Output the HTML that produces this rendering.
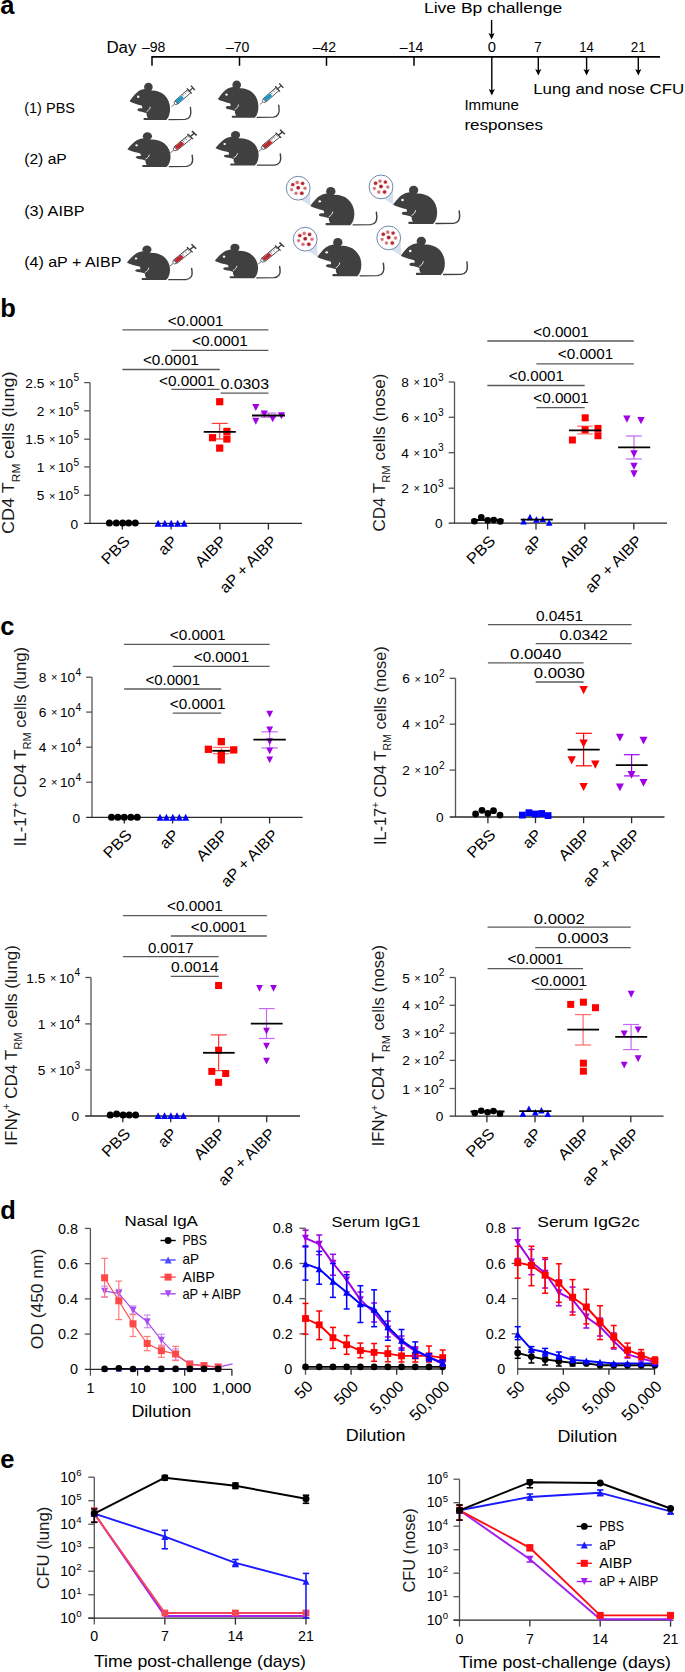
<!DOCTYPE html>
<html><head><meta charset="utf-8"><title>Figure</title>
<style>
html,body{margin:0;padding:0;background:#fff;width:685px;height:1672px;overflow:hidden}
svg{display:block}
text{font-family:"Liberation Sans", sans-serif}
</style></head>
<body>
<svg width="685" height="1672" viewBox="0 0 685 1672" font-family='"Liberation Sans", sans-serif'>
<rect width="685" height="1672" fill="#fff"/>
<defs><g id="mouse"><path d="M0 0 C1.5 -2 4.5 -6.5 8 -9.2 C9.8 -10.6 12 -11.6 14.6 -12 L22.3 -10.6 C26.5 -10.8 31.5 -9.2 34.8 -6.2 C38.6 -2.6 40.5 2.5 40.5 7.5 C40.5 12 39.6 16 36.8 18.9 L14.8 18.9 C13.5 18.9 13.5 16.8 14.8 16.8 L18.3 16.8 C17.3 15.5 16.7 13.6 17.1 12.2 C15 11.1 12.6 10.6 10.6 10.3 C8.7 10.1 7.3 9.3 8 8.1 C8.8 7.1 10.6 7 12.6 7.3 C12.7 6.3 12.6 5.4 12.3 4.7 C10.5 4.1 7 3.3 4.3 2.2 C2.5 1.5 0.8 0.9 0 0 Z" fill="#404040"/><circle cx="18.8" cy="-14.0" r="4.3" fill="#404040"/><circle cx="8.6" cy="-4.3" r="1.2" fill="#fff"/><path d="M20.6 5.6 C20.4 7.8 19 9.6 16.9 10.6" fill="none" stroke="#fff" stroke-width="0.85"/><path d="M39.4 18.5 L55.5 18.3 C60 18 61.6 14 61.2 10.2 L60.8 6.2" fill="none" stroke="#404040" stroke-width="1.35" stroke-linecap="round"/></g><g id="syrB"><line x1="0" y1="0" x2="4.6" y2="0" stroke="#555" stroke-width="0.75"/><path d="M4.4 -1.3 L6.6 -1.9 L6.6 1.9 L4.4 1.3 Z" fill="#fff" stroke="#3a3a3a" stroke-width="0.7"/><rect x="6.6" y="-2.2" width="17.2" height="4.4" fill="#fff" stroke="#3a3a3a" stroke-width="0.8"/><rect x="7.0" y="-1.8" width="8.0" height="3.6" fill="#1d97c6"/><line x1="16.2" y1="-2.2" x2="16.2" y2="0.6" stroke="#444" stroke-width="0.55"/><line x1="17.8" y1="-2.2" x2="17.8" y2="-0.6" stroke="#444" stroke-width="0.55"/><line x1="19.4" y1="-2.2" x2="19.4" y2="0.6" stroke="#444" stroke-width="0.55"/><line x1="21.0" y1="-2.2" x2="21.0" y2="-0.6" stroke="#444" stroke-width="0.55"/><line x1="22.6" y1="-2.2" x2="22.6" y2="0.6" stroke="#444" stroke-width="0.55"/><line x1="23.8" y1="-3.6" x2="23.8" y2="3.6" stroke="#3a3a3a" stroke-width="1.1"/><line x1="23.8" y1="0" x2="28.6" y2="0" stroke="#3a3a3a" stroke-width="1.2"/><line x1="28.6" y1="-3.0" x2="28.6" y2="3.0" stroke="#3a3a3a" stroke-width="1.4"/></g><g id="syrR"><line x1="0" y1="0" x2="4.6" y2="0" stroke="#555" stroke-width="0.75"/><path d="M4.4 -1.3 L6.6 -1.9 L6.6 1.9 L4.4 1.3 Z" fill="#fff" stroke="#3a3a3a" stroke-width="0.7"/><rect x="6.6" y="-2.2" width="17.2" height="4.4" fill="#fff" stroke="#3a3a3a" stroke-width="0.8"/><rect x="7.0" y="-1.8" width="8.0" height="3.6" fill="#c1272d"/><line x1="16.2" y1="-2.2" x2="16.2" y2="0.6" stroke="#444" stroke-width="0.55"/><line x1="17.8" y1="-2.2" x2="17.8" y2="-0.6" stroke="#444" stroke-width="0.55"/><line x1="19.4" y1="-2.2" x2="19.4" y2="0.6" stroke="#444" stroke-width="0.55"/><line x1="21.0" y1="-2.2" x2="21.0" y2="-0.6" stroke="#444" stroke-width="0.55"/><line x1="22.6" y1="-2.2" x2="22.6" y2="0.6" stroke="#444" stroke-width="0.55"/><line x1="23.8" y1="-3.6" x2="23.8" y2="3.6" stroke="#3a3a3a" stroke-width="1.1"/><line x1="23.8" y1="0" x2="28.6" y2="0" stroke="#3a3a3a" stroke-width="1.2"/><line x1="28.6" y1="-3.0" x2="28.6" y2="3.0" stroke="#3a3a3a" stroke-width="1.4"/></g><g id="bubble"><path d="M2.6 11.6 L12.4 17.8 L11.7 2.2 Z" fill="#d6e0ee"/><circle cx="0" cy="0" r="11.9" fill="#fff" stroke="#55739a" stroke-width="0.85"/><circle cx="-5.4" cy="-3.6" r="2.3" fill="#f3d3d4"/><circle cx="-5.4" cy="-3.6" r="1.7" fill="#b8282e"/><circle cx="-1.0" cy="-5.8" r="2.2" fill="#f3d3d4"/><circle cx="-1.0" cy="-5.8" r="1.6" fill="#d46e72"/><circle cx="4.4" cy="-4.8" r="2.3" fill="#f3d3d4"/><circle cx="4.4" cy="-4.8" r="1.7" fill="#b8282e"/><circle cx="-6.6" cy="1.5" r="2.0" fill="#f3d3d4"/><circle cx="-6.6" cy="1.5" r="1.4" fill="#d46e72"/><circle cx="0.0" cy="-0.4" r="2.4" fill="#f3d3d4"/><circle cx="0.0" cy="-0.4" r="1.8" fill="#a92026"/><circle cx="6.8" cy="0.0" r="2.1" fill="#f3d3d4"/><circle cx="6.8" cy="0.0" r="1.5" fill="#d46e72"/><circle cx="-2.2" cy="5.1" r="2.1" fill="#f3d3d4"/><circle cx="-2.2" cy="5.1" r="1.5" fill="#d46e72"/><circle cx="3.6" cy="5.1" r="2.4" fill="#f3d3d4"/><circle cx="3.6" cy="5.1" r="1.8" fill="#b8282e"/></g></defs>
<text x="0.30" y="14.00" font-size="25.5" font-weight="bold" fill="#000">a</text>
<line x1="151.30" y1="56.90" x2="660.00" y2="56.90" stroke="#000" stroke-width="1.6" />
<line x1="152.00" y1="56.90" x2="152.00" y2="65.80" stroke="#000" stroke-width="1.5" />
<line x1="239.50" y1="56.90" x2="239.50" y2="65.80" stroke="#000" stroke-width="1.5" />
<line x1="326.50" y1="56.90" x2="326.50" y2="65.80" stroke="#000" stroke-width="1.5" />
<line x1="414.00" y1="56.90" x2="414.00" y2="65.80" stroke="#000" stroke-width="1.5" />
<line x1="491.80" y1="56.90" x2="491.80" y2="91.60" stroke="#000" stroke-width="1.4" />
<path d="M488.70 89.00L491.80 90.60L494.90 89.00L491.80 95.60Z" fill="#000"/>
<line x1="538.30" y1="56.90" x2="538.30" y2="71.50" stroke="#000" stroke-width="1.4" />
<path d="M535.20 68.90L538.30 70.50L541.40 68.90L538.30 75.50Z" fill="#000"/>
<line x1="586.60" y1="56.90" x2="586.60" y2="71.50" stroke="#000" stroke-width="1.4" />
<path d="M583.50 68.90L586.60 70.50L589.70 68.90L586.60 75.50Z" fill="#000"/>
<line x1="638.30" y1="56.90" x2="638.30" y2="71.50" stroke="#000" stroke-width="1.4" />
<path d="M635.20 68.90L638.30 70.50L641.40 68.90L638.30 75.50Z" fill="#000"/>
<line x1="491.60" y1="19.90" x2="491.60" y2="35.50" stroke="#000" stroke-width="1.4" />
<path d="M488.50 32.90L491.60 34.50L494.70 32.90L491.60 39.50Z" fill="#000"/>
<text x="106.40" y="52.80" font-size="15.8" textLength="30.00" lengthAdjust="spacingAndGlyphs">Day</text>
<text x="153.70" y="51.90" font-size="13.8" text-anchor="middle" textLength="23.50" lengthAdjust="spacingAndGlyphs">–98</text>
<text x="237.70" y="51.90" font-size="13.8" text-anchor="middle" textLength="23.50" lengthAdjust="spacingAndGlyphs">–70</text>
<text x="324.40" y="51.90" font-size="13.8" text-anchor="middle" textLength="23.50" lengthAdjust="spacingAndGlyphs">–42</text>
<text x="411.60" y="51.90" font-size="13.8" text-anchor="middle" textLength="23.50" lengthAdjust="spacingAndGlyphs">–14</text>
<text x="491.80" y="51.90" font-size="13.8" text-anchor="middle" textLength="8.20" lengthAdjust="spacingAndGlyphs">0</text>
<text x="537.90" y="51.90" font-size="13.8" text-anchor="middle" textLength="7.50" lengthAdjust="spacingAndGlyphs">7</text>
<text x="586.60" y="51.90" font-size="13.8" text-anchor="middle" textLength="14.50" lengthAdjust="spacingAndGlyphs">14</text>
<text x="638.30" y="51.90" font-size="13.8" text-anchor="middle" textLength="15.00" lengthAdjust="spacingAndGlyphs">21</text>
<text x="423.90" y="12.80" font-size="15.2" textLength="138.30" lengthAdjust="spacingAndGlyphs">Live Bp challenge</text>
<text x="533.20" y="93.60" font-size="15.2" textLength="151.00" lengthAdjust="spacingAndGlyphs">Lung and nose CFU</text>
<text x="464.40" y="110.40" font-size="15.2" textLength="54.50" lengthAdjust="spacingAndGlyphs">Immune</text>
<text x="464.40" y="129.50" font-size="15.2" textLength="78.60" lengthAdjust="spacingAndGlyphs">responses</text>
<text x="24.20" y="112.50" font-size="15.2" textLength="50.80" lengthAdjust="spacingAndGlyphs">(1) PBS</text>
<text x="24.20" y="164.20" font-size="15.2" textLength="42.60" lengthAdjust="spacingAndGlyphs">(2) aP</text>
<text x="24.20" y="216.40" font-size="15.2" textLength="60.40" lengthAdjust="spacingAndGlyphs">(3) AIBP</text>
<text x="24.20" y="267.20" font-size="15.2" textLength="97.20" lengthAdjust="spacingAndGlyphs">(4) aP + AIBP</text>
<g transform="translate(129.60,101.10) scale(1.0,1.0)"><use href="#mouse"/><use href="#syrB" transform="translate(41.9,5.7) rotate(-41.5) scale(1.0)"/></g>
<g transform="translate(217.90,98.90) scale(1.0,1.0)"><use href="#mouse"/><use href="#syrB" transform="translate(41.9,5.7) rotate(-41.5) scale(1.0)"/></g>
<g transform="translate(127.40,149.30) scale(1.065,0.93)"><use href="#mouse"/><use href="#syrR" transform="translate(40.3,3.9) rotate(-43.2) scale(1.08)"/></g>
<g transform="translate(215.50,148.00) scale(1.065,0.93)"><use href="#mouse"/><use href="#syrR" transform="translate(40.3,3.9) rotate(-43.2) scale(1.08)"/></g>
<g transform="translate(126.90,262.50) scale(1.065,0.93)"><use href="#mouse"/><use href="#syrR" transform="translate(40.3,3.9) rotate(-43.2) scale(1.08)"/></g>
<g transform="translate(214.90,260.70) scale(1.065,0.93)"><use href="#mouse"/><use href="#syrR" transform="translate(40.3,3.9) rotate(-43.2) scale(1.08)"/></g>
<use href="#bubble" transform="translate(298.20,188.20)"/>
<use href="#mouse" transform="translate(310.40,205.80) scale(1.085,1.03)"/>
<use href="#bubble" transform="translate(381.00,186.90)"/>
<use href="#mouse" transform="translate(393.20,204.50) scale(1.085,1.03)"/>
<use href="#bubble" transform="translate(305.20,239.20)"/>
<use href="#mouse" transform="translate(317.40,256.80) scale(1.085,1.03)"/>
<use href="#bubble" transform="translate(388.70,237.90)"/>
<use href="#mouse" transform="translate(400.90,255.50) scale(1.085,1.03)"/>
<text x="0.30" y="317.00" font-size="25.5" font-weight="bold" fill="#000">b</text>
<text x="0.30" y="634.60" font-size="25.5" font-weight="bold" fill="#000">c</text>
<line x1="90.00" y1="382.60" x2="90.00" y2="523.40" stroke="#555" stroke-width="1.3" />
<line x1="84.20" y1="382.60" x2="90.00" y2="382.60" stroke="#555" stroke-width="1.3" />
<text x="73.20" y="387.60" font-size="13.7" text-anchor="end">10</text>
<text x="52.10" y="386.80" font-size="11.0" text-anchor="middle">×</text>
<text x="44.40" y="387.60" font-size="13.7" text-anchor="end">2.5</text>
<text x="73.40" y="381.30" font-size="10.2">5</text>
<line x1="84.20" y1="410.80" x2="90.00" y2="410.80" stroke="#555" stroke-width="1.3" />
<text x="73.20" y="415.80" font-size="13.7" text-anchor="end">10</text>
<text x="52.10" y="415.00" font-size="11.0" text-anchor="middle">×</text>
<text x="44.40" y="415.80" font-size="13.7" text-anchor="end">2</text>
<text x="73.40" y="409.50" font-size="10.2">5</text>
<line x1="84.20" y1="439.20" x2="90.00" y2="439.20" stroke="#555" stroke-width="1.3" />
<text x="73.20" y="444.20" font-size="13.7" text-anchor="end">10</text>
<text x="52.10" y="443.40" font-size="11.0" text-anchor="middle">×</text>
<text x="44.40" y="444.20" font-size="13.7" text-anchor="end">1.5</text>
<text x="73.40" y="437.90" font-size="10.2">5</text>
<line x1="84.20" y1="466.90" x2="90.00" y2="466.90" stroke="#555" stroke-width="1.3" />
<text x="73.20" y="471.90" font-size="13.7" text-anchor="end">10</text>
<text x="52.10" y="471.10" font-size="11.0" text-anchor="middle">×</text>
<text x="44.40" y="471.90" font-size="13.7" text-anchor="end">1</text>
<text x="73.40" y="465.60" font-size="10.2">5</text>
<line x1="84.20" y1="495.30" x2="90.00" y2="495.30" stroke="#555" stroke-width="1.3" />
<text x="73.20" y="500.30" font-size="13.7" text-anchor="end">10</text>
<text x="52.10" y="499.50" font-size="11.0" text-anchor="middle">×</text>
<text x="44.40" y="500.30" font-size="13.7" text-anchor="end">5</text>
<text x="73.40" y="494.00" font-size="10.2">5</text>
<text x="78.00" y="528.60" font-size="13.7" text-anchor="end">0</text>
<line x1="84.20" y1="523.40" x2="302.00" y2="523.40" stroke="#2a2a2a" stroke-width="1.3" />
<line x1="122.30" y1="523.40" x2="122.30" y2="529.60" stroke="#2a2a2a" stroke-width="1.3" />
<line x1="171.10" y1="523.40" x2="171.10" y2="529.60" stroke="#2a2a2a" stroke-width="1.3" />
<line x1="219.90" y1="523.40" x2="219.90" y2="529.60" stroke="#2a2a2a" stroke-width="1.3" />
<line x1="268.40" y1="523.40" x2="268.40" y2="529.60" stroke="#2a2a2a" stroke-width="1.3" />
<text transform="translate(130.90,542.10) rotate(-45)" x="0.00" y="0.00" font-size="15.4" text-anchor="end" textLength="33.00" lengthAdjust="spacingAndGlyphs">PBS</text>
<text transform="translate(178.20,542.10) rotate(-45)" x="0.00" y="0.00" font-size="15.4" text-anchor="end" textLength="19.60" lengthAdjust="spacingAndGlyphs">aP</text>
<text transform="translate(227.30,542.10) rotate(-45)" x="0.00" y="0.00" font-size="15.4" text-anchor="end" textLength="37.00" lengthAdjust="spacingAndGlyphs">AIBP</text>
<text transform="translate(277.80,542.10) rotate(-45)" x="0.00" y="0.00" font-size="15.4" text-anchor="end" textLength="73.50" lengthAdjust="spacingAndGlyphs">aP + AIBP</text>
<line x1="122.40" y1="329.80" x2="268.40" y2="329.80" stroke="#5a5a5a" stroke-width="1.3" />
<line x1="171.30" y1="350.40" x2="268.40" y2="350.40" stroke="#5a5a5a" stroke-width="1.3" />
<line x1="122.40" y1="369.50" x2="219.70" y2="369.50" stroke="#5a5a5a" stroke-width="1.3" />
<line x1="171.30" y1="389.40" x2="219.70" y2="389.40" stroke="#5a5a5a" stroke-width="1.3" />
<line x1="220.60" y1="393.10" x2="268.40" y2="393.10" stroke="#5a5a5a" stroke-width="1.3" />
<text x="195.60" y="325.60" font-size="13.9" text-anchor="middle" textLength="55.80" lengthAdjust="spacingAndGlyphs">&lt;0.0001</text>
<text x="219.95" y="346.00" font-size="13.9" text-anchor="middle" textLength="55.90" lengthAdjust="spacingAndGlyphs">&lt;0.0001</text>
<text x="170.80" y="365.30" font-size="13.9" text-anchor="middle" textLength="55.80" lengthAdjust="spacingAndGlyphs">&lt;0.0001</text>
<text x="186.90" y="385.70" font-size="13.9" text-anchor="middle" textLength="55.80" lengthAdjust="spacingAndGlyphs">&lt;0.0001</text>
<text x="244.70" y="389.40" font-size="13.9" text-anchor="middle" textLength="48.60" lengthAdjust="spacingAndGlyphs">0.0303</text>
<circle cx="109.40" cy="523.10" r="3.50" fill="#000"/>
<circle cx="116.30" cy="523.10" r="3.50" fill="#000"/>
<circle cx="122.70" cy="523.10" r="3.50" fill="#000"/>
<circle cx="128.70" cy="523.10" r="3.50" fill="#000"/>
<circle cx="135.30" cy="523.10" r="3.50" fill="#000"/>
<path d="M154.60 526.73L161.60 526.73L158.10 519.87Z" fill="#0000ff"/>
<path d="M161.30 526.73L168.30 526.73L164.80 519.87Z" fill="#0000ff"/>
<path d="M167.70 526.73L174.70 526.73L171.20 519.87Z" fill="#0000ff"/>
<path d="M174.20 526.73L181.20 526.73L177.70 519.87Z" fill="#0000ff"/>
<path d="M180.60 526.73L187.60 526.73L184.10 519.87Z" fill="#0000ff"/>
<line x1="219.70" y1="423.40" x2="219.70" y2="439.00" stroke="#ff3b3b" stroke-width="1.2" />
<line x1="211.70" y1="423.40" x2="227.70" y2="423.40" stroke="#ff3b3b" stroke-width="1.2" />
<line x1="211.70" y1="439.00" x2="227.70" y2="439.00" stroke="#ff3b3b" stroke-width="1.2" />
<rect x="216.10" y="398.10" width="7.20" height="7.20" fill="#ff0000"/>
<rect x="208.90" y="434.10" width="7.20" height="7.20" fill="#ff0000"/>
<rect x="223.30" y="427.80" width="7.20" height="7.20" fill="#ff0000"/>
<rect x="223.30" y="435.40" width="7.20" height="7.20" fill="#ff0000"/>
<rect x="216.10" y="444.50" width="7.20" height="7.20" fill="#ff0000"/>
<line x1="203.70" y1="431.80" x2="235.80" y2="431.80" stroke="#000" stroke-width="1.8" />
<line x1="268.40" y1="413.10" x2="268.40" y2="417.20" stroke="#c36af0" stroke-width="1.2" />
<line x1="260.50" y1="413.10" x2="276.30" y2="413.10" stroke="#c36af0" stroke-width="1.2" />
<line x1="260.50" y1="417.20" x2="276.30" y2="417.20" stroke="#c36af0" stroke-width="1.2" />
<path d="M252.20 403.97L259.40 403.97L255.80 411.03Z" fill="#a000e6"/>
<path d="M260.70 410.47L267.90 410.47L264.30 417.53Z" fill="#a000e6"/>
<path d="M269.10 415.17L276.30 415.17L272.70 422.23Z" fill="#a000e6"/>
<path d="M277.80 412.27L285.00 412.27L281.40 419.33Z" fill="#a000e6"/>
<path d="M252.20 417.77L259.40 417.77L255.80 424.83Z" fill="#a000e6"/>
<line x1="252.00" y1="415.50" x2="285.00" y2="415.50" stroke="#000" stroke-width="1.8" />
<text transform="translate(14.40,533.90) rotate(-90)" x="0" y="0" font-size="16.4" fill="#1a1a1a" textLength="162.40" lengthAdjust="spacingAndGlyphs"><tspan>CD4 T</tspan><tspan font-size="10.8" dy="5.2">RM</tspan><tspan dy="-5.2"> cells (lung)</tspan></text>
<line x1="454.50" y1="382.00" x2="454.50" y2="523.20" stroke="#555" stroke-width="1.3" />
<line x1="448.70" y1="382.00" x2="454.50" y2="382.00" stroke="#555" stroke-width="1.3" />
<text x="437.70" y="387.00" font-size="13.7" text-anchor="end">10</text>
<text x="416.60" y="386.20" font-size="11.0" text-anchor="middle">×</text>
<text x="408.90" y="387.00" font-size="13.7" text-anchor="end">8</text>
<text x="437.90" y="380.70" font-size="10.2">3</text>
<line x1="448.70" y1="417.30" x2="454.50" y2="417.30" stroke="#555" stroke-width="1.3" />
<text x="437.70" y="422.30" font-size="13.7" text-anchor="end">10</text>
<text x="416.60" y="421.50" font-size="11.0" text-anchor="middle">×</text>
<text x="408.90" y="422.30" font-size="13.7" text-anchor="end">6</text>
<text x="437.90" y="416.00" font-size="10.2">3</text>
<line x1="448.70" y1="452.70" x2="454.50" y2="452.70" stroke="#555" stroke-width="1.3" />
<text x="437.70" y="457.70" font-size="13.7" text-anchor="end">10</text>
<text x="416.60" y="456.90" font-size="11.0" text-anchor="middle">×</text>
<text x="408.90" y="457.70" font-size="13.7" text-anchor="end">4</text>
<text x="437.90" y="451.40" font-size="10.2">3</text>
<line x1="448.70" y1="488.20" x2="454.50" y2="488.20" stroke="#555" stroke-width="1.3" />
<text x="437.70" y="493.20" font-size="13.7" text-anchor="end">10</text>
<text x="416.60" y="492.40" font-size="11.0" text-anchor="middle">×</text>
<text x="408.90" y="493.20" font-size="13.7" text-anchor="end">2</text>
<text x="437.90" y="486.90" font-size="10.2">3</text>
<text x="442.50" y="528.40" font-size="13.7" text-anchor="end">0</text>
<line x1="448.70" y1="523.20" x2="667.00" y2="523.20" stroke="#2a2a2a" stroke-width="1.3" />
<line x1="487.60" y1="523.20" x2="487.60" y2="529.40" stroke="#2a2a2a" stroke-width="1.3" />
<line x1="536.00" y1="523.20" x2="536.00" y2="529.40" stroke="#2a2a2a" stroke-width="1.3" />
<line x1="584.80" y1="523.20" x2="584.80" y2="529.40" stroke="#2a2a2a" stroke-width="1.3" />
<line x1="633.80" y1="523.20" x2="633.80" y2="529.40" stroke="#2a2a2a" stroke-width="1.3" />
<text transform="translate(496.20,541.90) rotate(-45)" x="0.00" y="0.00" font-size="15.4" text-anchor="end" textLength="33.00" lengthAdjust="spacingAndGlyphs">PBS</text>
<text transform="translate(543.10,541.90) rotate(-45)" x="0.00" y="0.00" font-size="15.4" text-anchor="end" textLength="19.60" lengthAdjust="spacingAndGlyphs">aP</text>
<text transform="translate(592.20,541.90) rotate(-45)" x="0.00" y="0.00" font-size="15.4" text-anchor="end" textLength="37.00" lengthAdjust="spacingAndGlyphs">AIBP</text>
<text transform="translate(643.20,541.90) rotate(-45)" x="0.00" y="0.00" font-size="15.4" text-anchor="end" textLength="73.50" lengthAdjust="spacingAndGlyphs">aP + AIBP</text>
<line x1="487.30" y1="341.00" x2="633.80" y2="341.00" stroke="#5a5a5a" stroke-width="1.3" />
<line x1="536.40" y1="363.80" x2="633.80" y2="363.80" stroke="#5a5a5a" stroke-width="1.3" />
<line x1="487.30" y1="385.50" x2="584.70" y2="385.50" stroke="#5a5a5a" stroke-width="1.3" />
<line x1="536.40" y1="407.60" x2="584.70" y2="407.60" stroke="#5a5a5a" stroke-width="1.3" />
<text x="561.05" y="336.80" font-size="13.9" text-anchor="middle" textLength="55.50" lengthAdjust="spacingAndGlyphs">&lt;0.0001</text>
<text x="585.55" y="359.20" font-size="13.9" text-anchor="middle" textLength="55.50" lengthAdjust="spacingAndGlyphs">&lt;0.0001</text>
<text x="536.35" y="381.30" font-size="13.9" text-anchor="middle" textLength="55.10" lengthAdjust="spacingAndGlyphs">&lt;0.0001</text>
<text x="561.05" y="403.00" font-size="13.9" text-anchor="middle" textLength="55.50" lengthAdjust="spacingAndGlyphs">&lt;0.0001</text>
<circle cx="474.40" cy="521.20" r="3.30" fill="#000"/>
<circle cx="481.30" cy="517.20" r="3.30" fill="#000"/>
<circle cx="487.70" cy="520.40" r="3.30" fill="#000"/>
<circle cx="493.80" cy="520.10" r="3.30" fill="#000"/>
<circle cx="500.30" cy="521.40" r="3.30" fill="#000"/>
<line x1="471.50" y1="520.00" x2="503.50" y2="520.00" stroke="#000" stroke-width="1.8" />
<path d="M520.30 524.43L526.90 524.43L523.60 517.97Z" fill="#0000ff"/>
<path d="M526.70 520.13L533.30 520.13L530.00 513.67Z" fill="#0000ff"/>
<path d="M533.10 522.83L539.70 522.83L536.40 516.37Z" fill="#0000ff"/>
<path d="M539.50 522.23L546.10 522.23L542.80 515.77Z" fill="#0000ff"/>
<path d="M545.90 525.73L552.50 525.73L549.20 519.27Z" fill="#0000ff"/>
<line x1="520.70" y1="519.60" x2="552.80" y2="519.60" stroke="#000" stroke-width="1.8" />
<line x1="585.20" y1="426.20" x2="585.20" y2="433.90" stroke="#ff6a6a" stroke-width="1.2" />
<line x1="577.20" y1="426.20" x2="592.80" y2="426.20" stroke="#ff6a6a" stroke-width="1.2" />
<line x1="577.20" y1="433.90" x2="592.80" y2="433.90" stroke="#ff6a6a" stroke-width="1.2" />
<rect x="581.70" y="414.30" width="7.00" height="7.00" fill="#ff0000"/>
<rect x="581.60" y="426.30" width="7.00" height="7.00" fill="#ff0000"/>
<rect x="568.90" y="436.50" width="7.00" height="7.00" fill="#ff0000"/>
<rect x="594.50" y="424.90" width="7.00" height="7.00" fill="#ff0000"/>
<rect x="594.50" y="432.20" width="7.00" height="7.00" fill="#ff0000"/>
<line x1="569.00" y1="430.30" x2="601.20" y2="430.30" stroke="#000" stroke-width="1.8" />
<line x1="634.00" y1="436.00" x2="634.00" y2="459.00" stroke="#c36af0" stroke-width="1.2" />
<line x1="626.00" y1="436.00" x2="641.80" y2="436.00" stroke="#c36af0" stroke-width="1.2" />
<line x1="626.00" y1="459.00" x2="641.80" y2="459.00" stroke="#c36af0" stroke-width="1.2" />
<path d="M623.20 415.57L630.60 415.57L626.90 422.83Z" fill="#a000e6"/>
<path d="M637.30 416.97L644.70 416.97L641.00 424.23Z" fill="#a000e6"/>
<path d="M630.30 450.27L637.70 450.27L634.00 457.53Z" fill="#a000e6"/>
<path d="M630.30 462.67L637.70 462.67L634.00 469.93Z" fill="#a000e6"/>
<path d="M630.30 470.37L637.70 470.37L634.00 477.63Z" fill="#a000e6"/>
<line x1="618.10" y1="447.30" x2="650.20" y2="447.30" stroke="#000" stroke-width="1.8" />
<text transform="translate(385.20,531.60) rotate(-90)" x="0" y="0" font-size="16.4" fill="#1a1a1a" textLength="158.00" lengthAdjust="spacingAndGlyphs"><tspan>CD4 T</tspan><tspan font-size="10.8" dy="5.2">RM</tspan><tspan dy="-5.2"> cells (nose)</tspan></text>
<line x1="92.00" y1="677.20" x2="92.00" y2="817.30" stroke="#555" stroke-width="1.3" />
<line x1="86.20" y1="677.20" x2="92.00" y2="677.20" stroke="#555" stroke-width="1.3" />
<text x="75.20" y="682.20" font-size="13.7" text-anchor="end">10</text>
<text x="54.10" y="681.40" font-size="11.0" text-anchor="middle">×</text>
<text x="46.40" y="682.20" font-size="13.7" text-anchor="end">8</text>
<text x="75.40" y="675.90" font-size="10.2">4</text>
<line x1="86.20" y1="712.10" x2="92.00" y2="712.10" stroke="#555" stroke-width="1.3" />
<text x="75.20" y="717.10" font-size="13.7" text-anchor="end">10</text>
<text x="54.10" y="716.30" font-size="11.0" text-anchor="middle">×</text>
<text x="46.40" y="717.10" font-size="13.7" text-anchor="end">6</text>
<text x="75.40" y="710.80" font-size="10.2">4</text>
<line x1="86.20" y1="747.20" x2="92.00" y2="747.20" stroke="#555" stroke-width="1.3" />
<text x="75.20" y="752.20" font-size="13.7" text-anchor="end">10</text>
<text x="54.10" y="751.40" font-size="11.0" text-anchor="middle">×</text>
<text x="46.40" y="752.20" font-size="13.7" text-anchor="end">4</text>
<text x="75.40" y="745.90" font-size="10.2">4</text>
<line x1="86.20" y1="782.20" x2="92.00" y2="782.20" stroke="#555" stroke-width="1.3" />
<text x="75.20" y="787.20" font-size="13.7" text-anchor="end">10</text>
<text x="54.10" y="786.40" font-size="11.0" text-anchor="middle">×</text>
<text x="46.40" y="787.20" font-size="13.7" text-anchor="end">2</text>
<text x="75.40" y="780.90" font-size="10.2">4</text>
<text x="80.00" y="822.50" font-size="13.7" text-anchor="end">0</text>
<line x1="86.20" y1="817.30" x2="302.60" y2="817.30" stroke="#2a2a2a" stroke-width="1.3" />
<line x1="124.30" y1="817.30" x2="124.30" y2="823.50" stroke="#2a2a2a" stroke-width="1.3" />
<line x1="172.60" y1="817.30" x2="172.60" y2="823.50" stroke="#2a2a2a" stroke-width="1.3" />
<line x1="221.20" y1="817.30" x2="221.20" y2="823.50" stroke="#2a2a2a" stroke-width="1.3" />
<line x1="269.60" y1="817.30" x2="269.60" y2="823.50" stroke="#2a2a2a" stroke-width="1.3" />
<text transform="translate(132.90,836.00) rotate(-45)" x="0.00" y="0.00" font-size="15.4" text-anchor="end" textLength="33.00" lengthAdjust="spacingAndGlyphs">PBS</text>
<text transform="translate(179.70,836.00) rotate(-45)" x="0.00" y="0.00" font-size="15.4" text-anchor="end" textLength="19.60" lengthAdjust="spacingAndGlyphs">aP</text>
<text transform="translate(228.60,836.00) rotate(-45)" x="0.00" y="0.00" font-size="15.4" text-anchor="end" textLength="37.00" lengthAdjust="spacingAndGlyphs">AIBP</text>
<text transform="translate(279.00,836.00) rotate(-45)" x="0.00" y="0.00" font-size="15.4" text-anchor="end" textLength="73.50" lengthAdjust="spacingAndGlyphs">aP + AIBP</text>
<line x1="124.10" y1="644.30" x2="269.60" y2="644.30" stroke="#5a5a5a" stroke-width="1.3" />
<line x1="172.80" y1="666.40" x2="269.60" y2="666.40" stroke="#5a5a5a" stroke-width="1.3" />
<line x1="124.10" y1="689.00" x2="221.20" y2="689.00" stroke="#5a5a5a" stroke-width="1.3" />
<line x1="172.80" y1="713.10" x2="221.20" y2="713.10" stroke="#5a5a5a" stroke-width="1.3" />
<text x="197.60" y="639.90" font-size="13.9" text-anchor="middle" textLength="55.80" lengthAdjust="spacingAndGlyphs">&lt;0.0001</text>
<text x="221.45" y="662.20" font-size="13.9" text-anchor="middle" textLength="55.30" lengthAdjust="spacingAndGlyphs">&lt;0.0001</text>
<text x="172.70" y="685.00" font-size="13.9" text-anchor="middle" textLength="54.60" lengthAdjust="spacingAndGlyphs">&lt;0.0001</text>
<text x="197.60" y="708.60" font-size="13.9" text-anchor="middle" textLength="55.80" lengthAdjust="spacingAndGlyphs">&lt;0.0001</text>
<circle cx="111.50" cy="817.30" r="3.50" fill="#000"/>
<circle cx="117.90" cy="817.30" r="3.50" fill="#000"/>
<circle cx="124.30" cy="817.30" r="3.50" fill="#000"/>
<circle cx="130.80" cy="817.30" r="3.50" fill="#000"/>
<circle cx="137.20" cy="817.30" r="3.50" fill="#000"/>
<path d="M156.50 820.73L163.50 820.73L160.00 813.87Z" fill="#0000ff"/>
<path d="M162.90 820.73L169.90 820.73L166.40 813.87Z" fill="#0000ff"/>
<path d="M169.30 820.73L176.30 820.73L172.80 813.87Z" fill="#0000ff"/>
<path d="M175.80 820.73L182.80 820.73L179.30 813.87Z" fill="#0000ff"/>
<path d="M182.20 820.73L189.20 820.73L185.70 813.87Z" fill="#0000ff"/>
<line x1="221.30" y1="747.40" x2="221.30" y2="753.70" stroke="#ff6a6a" stroke-width="1.2" />
<line x1="212.80" y1="747.40" x2="229.30" y2="747.40" stroke="#ff6a6a" stroke-width="1.2" />
<line x1="212.80" y1="753.70" x2="229.30" y2="753.70" stroke="#ff6a6a" stroke-width="1.2" />
<rect x="217.65" y="737.95" width="7.30" height="7.30" fill="#ff0000"/>
<rect x="204.75" y="745.65" width="7.30" height="7.30" fill="#ff0000"/>
<rect x="230.05" y="746.25" width="7.30" height="7.30" fill="#ff0000"/>
<rect x="217.65" y="750.35" width="7.30" height="7.30" fill="#ff0000"/>
<rect x="217.65" y="756.25" width="7.30" height="7.30" fill="#ff0000"/>
<line x1="212.20" y1="750.80" x2="230.00" y2="750.80" stroke="#000" stroke-width="1.8" />
<line x1="269.70" y1="731.80" x2="269.70" y2="747.90" stroke="#c36af0" stroke-width="1.2" />
<line x1="261.40" y1="731.80" x2="277.90" y2="731.80" stroke="#c36af0" stroke-width="1.2" />
<line x1="261.40" y1="747.90" x2="277.90" y2="747.90" stroke="#c36af0" stroke-width="1.2" />
<path d="M266.30 710.87L273.10 710.87L269.70 717.53Z" fill="#a000e6"/>
<path d="M266.30 726.57L273.10 726.57L269.70 733.23Z" fill="#a000e6"/>
<path d="M266.30 738.27L273.10 738.27L269.70 744.93Z" fill="#a000e6"/>
<path d="M266.30 747.77L273.10 747.77L269.70 754.43Z" fill="#a000e6"/>
<path d="M266.30 756.57L273.10 756.57L269.70 763.23Z" fill="#a000e6"/>
<line x1="253.40" y1="739.70" x2="285.80" y2="739.70" stroke="#000" stroke-width="1.8" />
<text transform="translate(25.60,846.30) rotate(-90)" x="0" y="0" font-size="16.4" fill="#1a1a1a" textLength="199.40" lengthAdjust="spacingAndGlyphs"><tspan>IL-17</tspan><tspan font-size="10.2" dy="-6.5">+</tspan><tspan dy="6.5"> CD4 T</tspan><tspan font-size="10.8" dy="5.2">RM</tspan><tspan dy="-5.2"> cells (lung)</tspan></text>
<line x1="455.50" y1="678.30" x2="455.50" y2="817.00" stroke="#555" stroke-width="1.3" />
<line x1="449.70" y1="678.30" x2="455.50" y2="678.30" stroke="#555" stroke-width="1.3" />
<text x="438.70" y="683.30" font-size="13.7" text-anchor="end">10</text>
<text x="417.60" y="682.50" font-size="11.0" text-anchor="middle">×</text>
<text x="409.90" y="683.30" font-size="13.7" text-anchor="end">6</text>
<text x="438.90" y="677.00" font-size="10.2">2</text>
<line x1="449.70" y1="724.20" x2="455.50" y2="724.20" stroke="#555" stroke-width="1.3" />
<text x="438.70" y="729.20" font-size="13.7" text-anchor="end">10</text>
<text x="417.60" y="728.40" font-size="11.0" text-anchor="middle">×</text>
<text x="409.90" y="729.20" font-size="13.7" text-anchor="end">4</text>
<text x="438.90" y="722.90" font-size="10.2">2</text>
<line x1="449.70" y1="770.10" x2="455.50" y2="770.10" stroke="#555" stroke-width="1.3" />
<text x="438.70" y="775.10" font-size="13.7" text-anchor="end">10</text>
<text x="417.60" y="774.30" font-size="11.0" text-anchor="middle">×</text>
<text x="409.90" y="775.10" font-size="13.7" text-anchor="end">2</text>
<text x="438.90" y="768.80" font-size="10.2">2</text>
<text x="443.50" y="822.20" font-size="13.7" text-anchor="end">0</text>
<line x1="449.70" y1="817.00" x2="664.50" y2="817.00" stroke="#2a2a2a" stroke-width="1.3" />
<line x1="487.90" y1="817.00" x2="487.90" y2="823.20" stroke="#2a2a2a" stroke-width="1.3" />
<line x1="535.50" y1="817.00" x2="535.50" y2="823.20" stroke="#2a2a2a" stroke-width="1.3" />
<line x1="583.60" y1="817.00" x2="583.60" y2="823.20" stroke="#2a2a2a" stroke-width="1.3" />
<line x1="631.60" y1="817.00" x2="631.60" y2="823.20" stroke="#2a2a2a" stroke-width="1.3" />
<text transform="translate(496.50,835.70) rotate(-45)" x="0.00" y="0.00" font-size="15.4" text-anchor="end" textLength="33.00" lengthAdjust="spacingAndGlyphs">PBS</text>
<text transform="translate(542.60,835.70) rotate(-45)" x="0.00" y="0.00" font-size="15.4" text-anchor="end" textLength="19.60" lengthAdjust="spacingAndGlyphs">aP</text>
<text transform="translate(591.00,835.70) rotate(-45)" x="0.00" y="0.00" font-size="15.4" text-anchor="end" textLength="37.00" lengthAdjust="spacingAndGlyphs">AIBP</text>
<text transform="translate(641.00,835.70) rotate(-45)" x="0.00" y="0.00" font-size="15.4" text-anchor="end" textLength="73.50" lengthAdjust="spacingAndGlyphs">aP + AIBP</text>
<line x1="487.90" y1="624.70" x2="631.60" y2="624.70" stroke="#5a5a5a" stroke-width="1.3" />
<line x1="535.70" y1="643.60" x2="631.60" y2="643.60" stroke="#5a5a5a" stroke-width="1.3" />
<line x1="487.90" y1="662.80" x2="583.50" y2="662.80" stroke="#5a5a5a" stroke-width="1.3" />
<line x1="535.70" y1="682.00" x2="583.50" y2="682.00" stroke="#5a5a5a" stroke-width="1.3" />
<text x="559.50" y="620.80" font-size="13.9" text-anchor="middle" textLength="47.20" lengthAdjust="spacingAndGlyphs">0.0451</text>
<text x="583.65" y="639.70" font-size="13.9" text-anchor="middle" textLength="48.30" lengthAdjust="spacingAndGlyphs">0.0342</text>
<text x="535.65" y="658.90" font-size="13.9" text-anchor="middle" textLength="51.10" lengthAdjust="spacingAndGlyphs">0.0040</text>
<text x="559.35" y="678.00" font-size="13.9" text-anchor="middle" textLength="51.10" lengthAdjust="spacingAndGlyphs">0.0030</text>
<circle cx="475.60" cy="814.00" r="3.40" fill="#000"/>
<circle cx="482.00" cy="810.30" r="3.40" fill="#000"/>
<circle cx="487.90" cy="813.50" r="3.40" fill="#000"/>
<circle cx="493.50" cy="810.70" r="3.40" fill="#000"/>
<circle cx="500.00" cy="815.10" r="3.40" fill="#000"/>
<rect x="519.00" y="811.70" width="6.80" height="6.80" fill="#0000ff"/>
<rect x="525.50" y="809.30" width="6.80" height="6.80" fill="#0000ff"/>
<rect x="531.90" y="810.60" width="6.80" height="6.80" fill="#0000ff"/>
<rect x="538.30" y="810.10" width="6.80" height="6.80" fill="#0000ff"/>
<rect x="544.70" y="812.20" width="6.80" height="6.80" fill="#0000ff"/>
<line x1="583.60" y1="733.30" x2="583.60" y2="765.80" stroke="#ff0000" stroke-width="1.2" />
<line x1="575.80" y1="733.30" x2="591.80" y2="733.30" stroke="#ff0000" stroke-width="1.2" />
<line x1="575.80" y1="765.80" x2="591.80" y2="765.80" stroke="#ff0000" stroke-width="1.2" />
<path d="M579.40 686.08L587.80 686.08L583.60 694.32Z" fill="#ff0000"/>
<path d="M579.40 739.38L587.80 739.38L583.60 747.62Z" fill="#ff0000"/>
<path d="M567.50 756.18L575.90 756.18L571.70 764.42Z" fill="#ff0000"/>
<path d="M591.10 760.58L599.50 760.58L595.30 768.82Z" fill="#ff0000"/>
<path d="M579.40 782.88L587.80 782.88L583.60 791.12Z" fill="#ff0000"/>
<line x1="567.60" y1="749.60" x2="599.70" y2="749.60" stroke="#000" stroke-width="1.8" />
<line x1="631.60" y1="754.70" x2="631.60" y2="775.90" stroke="#a000e6" stroke-width="1.2" />
<line x1="623.90" y1="754.70" x2="639.60" y2="754.70" stroke="#a000e6" stroke-width="1.2" />
<line x1="623.90" y1="775.90" x2="639.60" y2="775.90" stroke="#a000e6" stroke-width="1.2" />
<path d="M615.90 733.78L623.90 733.78L619.90 741.62Z" fill="#a000e6"/>
<path d="M639.50 736.68L647.50 736.68L643.50 744.52Z" fill="#a000e6"/>
<path d="M627.50 770.98L635.50 770.98L631.50 778.82Z" fill="#a000e6"/>
<path d="M639.50 778.98L647.50 778.98L643.50 786.82Z" fill="#a000e6"/>
<path d="M615.90 783.38L623.90 783.38L619.90 791.22Z" fill="#a000e6"/>
<line x1="615.80" y1="765.10" x2="647.60" y2="765.10" stroke="#000" stroke-width="1.8" />
<text transform="translate(385.60,845.00) rotate(-90)" x="0" y="0" font-size="16.4" fill="#1a1a1a" textLength="198.70" lengthAdjust="spacingAndGlyphs"><tspan>IL-17</tspan><tspan font-size="10.2" dy="-6.5">+</tspan><tspan dy="6.5"> CD4 T</tspan><tspan font-size="10.8" dy="5.2">RM</tspan><tspan dy="-5.2"> cells (nose)</tspan></text>
<line x1="91.00" y1="977.50" x2="91.00" y2="1116.00" stroke="#555" stroke-width="1.3" />
<line x1="85.20" y1="977.50" x2="91.00" y2="977.50" stroke="#555" stroke-width="1.3" />
<text x="74.20" y="982.50" font-size="13.7" text-anchor="end">10</text>
<text x="53.10" y="981.70" font-size="11.0" text-anchor="middle">×</text>
<text x="45.40" y="982.50" font-size="13.7" text-anchor="end">1.5</text>
<text x="74.40" y="976.20" font-size="10.2">4</text>
<line x1="85.20" y1="1023.90" x2="91.00" y2="1023.90" stroke="#555" stroke-width="1.3" />
<text x="74.20" y="1028.90" font-size="13.7" text-anchor="end">10</text>
<text x="53.10" y="1028.10" font-size="11.0" text-anchor="middle">×</text>
<text x="45.40" y="1028.90" font-size="13.7" text-anchor="end">1</text>
<text x="74.40" y="1022.60" font-size="10.2">4</text>
<line x1="85.20" y1="1069.90" x2="91.00" y2="1069.90" stroke="#555" stroke-width="1.3" />
<text x="74.20" y="1074.90" font-size="13.7" text-anchor="end">10</text>
<text x="53.10" y="1074.10" font-size="11.0" text-anchor="middle">×</text>
<text x="45.40" y="1074.90" font-size="13.7" text-anchor="end">5</text>
<text x="74.40" y="1068.60" font-size="10.2">3</text>
<text x="79.00" y="1121.20" font-size="13.7" text-anchor="end">0</text>
<line x1="85.20" y1="1116.00" x2="300.00" y2="1116.00" stroke="#2a2a2a" stroke-width="1.3" />
<line x1="122.80" y1="1116.00" x2="122.80" y2="1122.20" stroke="#2a2a2a" stroke-width="1.3" />
<line x1="170.70" y1="1116.00" x2="170.70" y2="1122.20" stroke="#2a2a2a" stroke-width="1.3" />
<line x1="218.70" y1="1116.00" x2="218.70" y2="1122.20" stroke="#2a2a2a" stroke-width="1.3" />
<line x1="266.70" y1="1116.00" x2="266.70" y2="1122.20" stroke="#2a2a2a" stroke-width="1.3" />
<text transform="translate(131.40,1134.70) rotate(-45)" x="0.00" y="0.00" font-size="15.4" text-anchor="end" textLength="33.00" lengthAdjust="spacingAndGlyphs">PBS</text>
<text transform="translate(177.80,1134.70) rotate(-45)" x="0.00" y="0.00" font-size="15.4" text-anchor="end" textLength="19.60" lengthAdjust="spacingAndGlyphs">aP</text>
<text transform="translate(226.10,1134.70) rotate(-45)" x="0.00" y="0.00" font-size="15.4" text-anchor="end" textLength="37.00" lengthAdjust="spacingAndGlyphs">AIBP</text>
<text transform="translate(276.10,1134.70) rotate(-45)" x="0.00" y="0.00" font-size="15.4" text-anchor="end" textLength="73.50" lengthAdjust="spacingAndGlyphs">aP + AIBP</text>
<line x1="122.90" y1="915.60" x2="266.90" y2="915.60" stroke="#5a5a5a" stroke-width="1.3" />
<line x1="170.80" y1="936.00" x2="266.90" y2="936.00" stroke="#5a5a5a" stroke-width="1.3" />
<line x1="122.90" y1="956.60" x2="218.70" y2="956.60" stroke="#5a5a5a" stroke-width="1.3" />
<line x1="170.80" y1="976.40" x2="218.70" y2="976.40" stroke="#5a5a5a" stroke-width="1.3" />
<text x="194.90" y="911.10" font-size="13.9" text-anchor="middle" textLength="55.80" lengthAdjust="spacingAndGlyphs">&lt;0.0001</text>
<text x="218.70" y="931.70" font-size="13.9" text-anchor="middle" textLength="55.80" lengthAdjust="spacingAndGlyphs">&lt;0.0001</text>
<text x="170.80" y="952.60" font-size="13.9" text-anchor="middle" textLength="45.80" lengthAdjust="spacingAndGlyphs">0.0017</text>
<text x="194.80" y="972.40" font-size="13.9" text-anchor="middle" textLength="47.60" lengthAdjust="spacingAndGlyphs">0.0014</text>
<circle cx="110.20" cy="1115.10" r="3.50" fill="#000"/>
<circle cx="116.60" cy="1114.00" r="3.50" fill="#000"/>
<circle cx="123.10" cy="1115.10" r="3.50" fill="#000"/>
<circle cx="129.20" cy="1115.10" r="3.50" fill="#000"/>
<circle cx="135.60" cy="1115.10" r="3.50" fill="#000"/>
<path d="M154.60 1119.03L161.60 1119.03L158.10 1112.17Z" fill="#0000ff"/>
<path d="M161.00 1119.03L168.00 1119.03L164.50 1112.17Z" fill="#0000ff"/>
<path d="M167.40 1119.03L174.40 1119.03L170.90 1112.17Z" fill="#0000ff"/>
<path d="M173.50 1119.03L180.50 1119.03L177.00 1112.17Z" fill="#0000ff"/>
<path d="M179.90 1119.03L186.90 1119.03L183.40 1112.17Z" fill="#0000ff"/>
<line x1="218.60" y1="1034.90" x2="218.60" y2="1070.60" stroke="#ff3b3b" stroke-width="1.2" />
<line x1="210.80" y1="1034.90" x2="226.80" y2="1034.90" stroke="#ff3b3b" stroke-width="1.2" />
<line x1="210.80" y1="1070.60" x2="226.80" y2="1070.60" stroke="#ff3b3b" stroke-width="1.2" />
<rect x="215.10" y="982.00" width="7.00" height="7.00" fill="#ff0000"/>
<rect x="215.10" y="1046.70" width="7.00" height="7.00" fill="#ff0000"/>
<rect x="208.30" y="1067.90" width="7.00" height="7.00" fill="#ff0000"/>
<rect x="222.20" y="1070.00" width="7.00" height="7.00" fill="#ff0000"/>
<rect x="215.10" y="1078.80" width="7.00" height="7.00" fill="#ff0000"/>
<line x1="203.00" y1="1052.80" x2="234.70" y2="1052.80" stroke="#000" stroke-width="1.8" />
<line x1="266.50" y1="1008.60" x2="266.50" y2="1038.50" stroke="#c36af0" stroke-width="1.2" />
<line x1="258.90" y1="1008.60" x2="274.60" y2="1008.60" stroke="#c36af0" stroke-width="1.2" />
<line x1="258.90" y1="1038.50" x2="274.60" y2="1038.50" stroke="#c36af0" stroke-width="1.2" />
<path d="M256.10 985.07L262.90 985.07L259.50 991.73Z" fill="#a000e6"/>
<path d="M270.10 985.07L276.90 985.07L273.50 991.73Z" fill="#a000e6"/>
<path d="M263.10 1027.87L269.90 1027.87L266.50 1034.53Z" fill="#a000e6"/>
<path d="M263.10 1042.87L269.90 1042.87L266.50 1049.53Z" fill="#a000e6"/>
<path d="M263.10 1057.77L269.90 1057.77L266.50 1064.43Z" fill="#a000e6"/>
<line x1="250.80" y1="1023.60" x2="282.60" y2="1023.60" stroke="#000" stroke-width="1.8" />
<text transform="translate(16.50,1145.70) rotate(-90)" x="0" y="0" font-size="16.4" fill="#1a1a1a" textLength="200.70" lengthAdjust="spacingAndGlyphs"><tspan>IFNγ</tspan><tspan font-size="10.2" dy="-6.5">+</tspan><tspan dy="6.5"> CD4 T</tspan><tspan font-size="10.8" dy="5.2">RM</tspan><tspan dy="-5.2"> cells (lung)</tspan></text>
<line x1="455.40" y1="977.50" x2="455.40" y2="1116.10" stroke="#555" stroke-width="1.3" />
<line x1="449.60" y1="977.50" x2="455.40" y2="977.50" stroke="#555" stroke-width="1.3" />
<text x="438.60" y="982.50" font-size="13.7" text-anchor="end">10</text>
<text x="417.50" y="981.70" font-size="11.0" text-anchor="middle">×</text>
<text x="409.80" y="982.50" font-size="13.7" text-anchor="end">5</text>
<text x="438.80" y="976.20" font-size="10.2">2</text>
<line x1="449.60" y1="1005.30" x2="455.40" y2="1005.30" stroke="#555" stroke-width="1.3" />
<text x="438.60" y="1010.30" font-size="13.7" text-anchor="end">10</text>
<text x="417.50" y="1009.50" font-size="11.0" text-anchor="middle">×</text>
<text x="409.80" y="1010.30" font-size="13.7" text-anchor="end">4</text>
<text x="438.80" y="1004.00" font-size="10.2">2</text>
<line x1="449.60" y1="1033.20" x2="455.40" y2="1033.20" stroke="#555" stroke-width="1.3" />
<text x="438.60" y="1038.20" font-size="13.7" text-anchor="end">10</text>
<text x="417.50" y="1037.40" font-size="11.0" text-anchor="middle">×</text>
<text x="409.80" y="1038.20" font-size="13.7" text-anchor="end">3</text>
<text x="438.80" y="1031.90" font-size="10.2">2</text>
<line x1="449.60" y1="1060.40" x2="455.40" y2="1060.40" stroke="#555" stroke-width="1.3" />
<text x="438.60" y="1065.40" font-size="13.7" text-anchor="end">10</text>
<text x="417.50" y="1064.60" font-size="11.0" text-anchor="middle">×</text>
<text x="409.80" y="1065.40" font-size="13.7" text-anchor="end">2</text>
<text x="438.80" y="1059.10" font-size="10.2">2</text>
<line x1="449.60" y1="1088.50" x2="455.40" y2="1088.50" stroke="#555" stroke-width="1.3" />
<text x="438.60" y="1093.50" font-size="13.7" text-anchor="end">10</text>
<text x="417.50" y="1092.70" font-size="11.0" text-anchor="middle">×</text>
<text x="409.80" y="1093.50" font-size="13.7" text-anchor="end">1</text>
<text x="438.80" y="1087.20" font-size="10.2">2</text>
<text x="443.40" y="1121.30" font-size="13.7" text-anchor="end">0</text>
<line x1="449.60" y1="1116.10" x2="663.50" y2="1116.10" stroke="#2a2a2a" stroke-width="1.3" />
<line x1="486.90" y1="1116.10" x2="486.90" y2="1122.30" stroke="#2a2a2a" stroke-width="1.3" />
<line x1="535.00" y1="1116.10" x2="535.00" y2="1122.30" stroke="#2a2a2a" stroke-width="1.3" />
<line x1="583.10" y1="1116.10" x2="583.10" y2="1122.30" stroke="#2a2a2a" stroke-width="1.3" />
<line x1="630.80" y1="1116.10" x2="630.80" y2="1122.30" stroke="#2a2a2a" stroke-width="1.3" />
<text transform="translate(495.50,1134.80) rotate(-45)" x="0.00" y="0.00" font-size="15.4" text-anchor="end" textLength="33.00" lengthAdjust="spacingAndGlyphs">PBS</text>
<text transform="translate(542.10,1134.80) rotate(-45)" x="0.00" y="0.00" font-size="15.4" text-anchor="end" textLength="19.60" lengthAdjust="spacingAndGlyphs">aP</text>
<text transform="translate(590.50,1134.80) rotate(-45)" x="0.00" y="0.00" font-size="15.4" text-anchor="end" textLength="37.00" lengthAdjust="spacingAndGlyphs">AIBP</text>
<text transform="translate(640.20,1134.80) rotate(-45)" x="0.00" y="0.00" font-size="15.4" text-anchor="end" textLength="73.50" lengthAdjust="spacingAndGlyphs">aP + AIBP</text>
<line x1="487.60" y1="927.10" x2="630.80" y2="927.10" stroke="#5a5a5a" stroke-width="1.3" />
<line x1="535.20" y1="947.60" x2="630.80" y2="947.60" stroke="#5a5a5a" stroke-width="1.3" />
<line x1="487.60" y1="968.60" x2="583.00" y2="968.60" stroke="#5a5a5a" stroke-width="1.3" />
<line x1="535.20" y1="989.30" x2="583.00" y2="989.30" stroke="#5a5a5a" stroke-width="1.3" />
<text x="559.35" y="923.60" font-size="13.9" text-anchor="middle" textLength="51.10" lengthAdjust="spacingAndGlyphs">0.0002</text>
<text x="582.95" y="943.40" font-size="13.9" text-anchor="middle" textLength="51.10" lengthAdjust="spacingAndGlyphs">0.0003</text>
<text x="535.40" y="964.40" font-size="13.9" text-anchor="middle" textLength="55.80" lengthAdjust="spacingAndGlyphs">&lt;0.0001</text>
<text x="559.05" y="986.20" font-size="13.9" text-anchor="middle" textLength="55.90" lengthAdjust="spacingAndGlyphs">&lt;0.0001</text>
<circle cx="474.80" cy="1113.10" r="3.30" fill="#000"/>
<circle cx="481.20" cy="1110.70" r="3.30" fill="#000"/>
<circle cx="487.60" cy="1112.30" r="3.30" fill="#000"/>
<circle cx="493.50" cy="1111.10" r="3.30" fill="#000"/>
<circle cx="500.00" cy="1113.80" r="3.30" fill="#000"/>
<line x1="470.50" y1="1111.50" x2="504.50" y2="1111.50" stroke="#000" stroke-width="1.8" />
<path d="M519.60 1116.73L526.20 1116.73L522.90 1110.27Z" fill="#0000ff"/>
<path d="M525.60 1111.93L532.20 1111.93L528.90 1105.47Z" fill="#0000ff"/>
<path d="M532.00 1115.53L538.60 1115.53L535.30 1109.07Z" fill="#0000ff"/>
<path d="M538.10 1113.53L544.70 1113.53L541.40 1107.07Z" fill="#0000ff"/>
<path d="M544.50 1117.03L551.10 1117.03L547.80 1110.57Z" fill="#0000ff"/>
<line x1="519.20" y1="1111.10" x2="551.40" y2="1111.10" stroke="#000" stroke-width="1.8" />
<line x1="583.10" y1="1014.60" x2="583.10" y2="1045.00" stroke="#ff6a6a" stroke-width="1.2" />
<line x1="575.00" y1="1014.60" x2="591.10" y2="1014.60" stroke="#ff6a6a" stroke-width="1.2" />
<line x1="575.00" y1="1045.00" x2="591.10" y2="1045.00" stroke="#ff6a6a" stroke-width="1.2" />
<rect x="567.20" y="1000.90" width="7.00" height="7.00" fill="#ff0000"/>
<rect x="579.90" y="998.70" width="7.00" height="7.00" fill="#ff0000"/>
<rect x="592.00" y="1004.20" width="7.00" height="7.00" fill="#ff0000"/>
<rect x="579.90" y="1059.70" width="7.00" height="7.00" fill="#ff0000"/>
<rect x="579.90" y="1067.70" width="7.00" height="7.00" fill="#ff0000"/>
<line x1="567.30" y1="1029.60" x2="599.00" y2="1029.60" stroke="#000" stroke-width="1.8" />
<line x1="631.10" y1="1024.50" x2="631.10" y2="1049.60" stroke="#c36af0" stroke-width="1.2" />
<line x1="623.10" y1="1024.50" x2="639.10" y2="1024.50" stroke="#c36af0" stroke-width="1.2" />
<line x1="623.10" y1="1049.60" x2="639.10" y2="1049.60" stroke="#c36af0" stroke-width="1.2" />
<path d="M627.70 990.77L634.70 990.77L631.20 997.63Z" fill="#a000e6"/>
<path d="M634.60 1026.47L641.60 1026.47L638.10 1033.33Z" fill="#a000e6"/>
<path d="M620.70 1030.57L627.70 1030.57L624.20 1037.43Z" fill="#a000e6"/>
<path d="M634.60 1055.37L641.60 1055.37L638.10 1062.23Z" fill="#a000e6"/>
<path d="M620.70 1061.67L627.70 1061.67L624.20 1068.53Z" fill="#a000e6"/>
<line x1="615.20" y1="1036.90" x2="647.20" y2="1036.90" stroke="#000" stroke-width="1.8" />
<text transform="translate(384.40,1146.30) rotate(-90)" x="0" y="0" font-size="16.4" fill="#1a1a1a" textLength="201.30" lengthAdjust="spacingAndGlyphs"><tspan>IFNγ</tspan><tspan font-size="10.2" dy="-6.5">+</tspan><tspan dy="6.5"> CD4 T</tspan><tspan font-size="10.8" dy="5.2">RM</tspan><tspan dy="-5.2"> cells (nose)</tspan></text>
<text x="0.30" y="1219.00" font-size="25.5" font-weight="bold" fill="#000">d</text>
<text x="0.30" y="1467.60" font-size="25.5" font-weight="bold" fill="#000">e</text>
<line x1="84.80" y1="1228.42" x2="90.40" y2="1228.42" stroke="#555" stroke-width="1.3" />
<text x="78.00" y="1233.52" font-size="14.4" text-anchor="end">0.8</text>
<line x1="84.80" y1="1263.64" x2="90.40" y2="1263.64" stroke="#555" stroke-width="1.3" />
<text x="78.00" y="1268.74" font-size="14.4" text-anchor="end">0.6</text>
<line x1="84.80" y1="1298.86" x2="90.40" y2="1298.86" stroke="#555" stroke-width="1.3" />
<text x="78.00" y="1303.96" font-size="14.4" text-anchor="end">0.4</text>
<line x1="84.80" y1="1334.08" x2="90.40" y2="1334.08" stroke="#555" stroke-width="1.3" />
<text x="78.00" y="1339.18" font-size="14.4" text-anchor="end">0.2</text>
<text x="78.00" y="1374.40" font-size="14.4" text-anchor="end">0</text>
<line x1="90.40" y1="1228.42" x2="90.40" y2="1375.70" stroke="#555" stroke-width="1.3" />
<line x1="84.80" y1="1369.30" x2="231.90" y2="1369.30" stroke="#2a2a2a" stroke-width="1.3" />
<line x1="137.60" y1="1369.30" x2="137.60" y2="1375.70" stroke="#2a2a2a" stroke-width="1.3" />
<line x1="184.70" y1="1369.30" x2="184.70" y2="1375.70" stroke="#2a2a2a" stroke-width="1.3" />
<line x1="231.90" y1="1369.30" x2="231.90" y2="1375.70" stroke="#2a2a2a" stroke-width="1.3" />
<text x="90.40" y="1393.00" font-size="14.2" text-anchor="middle">1</text>
<text x="137.70" y="1393.00" font-size="14.2" text-anchor="middle" textLength="15.80" lengthAdjust="spacingAndGlyphs">10</text>
<text x="184.10" y="1393.00" font-size="14.2" text-anchor="middle" textLength="24.80" lengthAdjust="spacingAndGlyphs">100</text>
<text x="231.70" y="1393.00" font-size="14.2" text-anchor="middle" textLength="39.30" lengthAdjust="spacingAndGlyphs">1,000</text>
<text x="131.40" y="1416.60" font-size="15.8" textLength="59.80" lengthAdjust="spacingAndGlyphs">Dilution</text>
<text x="124.50" y="1225.90" font-size="14.6" textLength="73.40" lengthAdjust="spacingAndGlyphs">Nasal IgA</text>
<text transform="translate(42.9,1349.2) rotate(-90)" font-size="16" fill="#1a1a1a" textLength="100.4" lengthAdjust="spacingAndGlyphs">OD (450 nm)</text>
<polyline points="104.60,1368.60 118.80,1368.60 133.00,1368.60 147.20,1368.60 161.40,1368.60 175.60,1368.60 189.80,1368.60 204.00,1368.60 218.20,1368.60" fill="none" stroke="#4b4bff" stroke-width="1.2" stroke-linejoin="round" />
<path d="M101.35 1371.78L107.85 1371.78L104.60 1365.41Z" fill="#4b4bff"/>
<path d="M115.55 1371.78L122.05 1371.78L118.80 1365.41Z" fill="#4b4bff"/>
<path d="M129.75 1371.78L136.25 1371.78L133.00 1365.41Z" fill="#4b4bff"/>
<path d="M143.95 1371.78L150.45 1371.78L147.20 1365.41Z" fill="#4b4bff"/>
<path d="M158.15 1371.78L164.65 1371.78L161.40 1365.41Z" fill="#4b4bff"/>
<path d="M172.35 1371.78L178.85 1371.78L175.60 1365.41Z" fill="#4b4bff"/>
<path d="M186.55 1371.78L193.05 1371.78L189.80 1365.41Z" fill="#4b4bff"/>
<path d="M200.75 1371.78L207.25 1371.78L204.00 1365.41Z" fill="#4b4bff"/>
<path d="M214.95 1371.78L221.45 1371.78L218.20 1365.41Z" fill="#4b4bff"/>
<polyline points="218.20,1367.10 232.60,1363.90" fill="none" stroke="#a94cf2" stroke-width="1.2" stroke-linejoin="round" />
<line x1="104.60" y1="1286.10" x2="104.60" y2="1297.10" stroke="#c98cf3" stroke-width="1.2" />
<line x1="101.20" y1="1286.10" x2="108.00" y2="1286.10" stroke="#c98cf3" stroke-width="1.2" />
<line x1="101.20" y1="1297.10" x2="108.00" y2="1297.10" stroke="#c98cf3" stroke-width="1.2" />
<line x1="118.80" y1="1289.40" x2="118.80" y2="1296.00" stroke="#c98cf3" stroke-width="1.2" />
<line x1="115.40" y1="1289.40" x2="122.20" y2="1289.40" stroke="#c98cf3" stroke-width="1.2" />
<line x1="115.40" y1="1296.00" x2="122.20" y2="1296.00" stroke="#c98cf3" stroke-width="1.2" />
<line x1="133.00" y1="1306.00" x2="133.00" y2="1314.00" stroke="#c98cf3" stroke-width="1.2" />
<line x1="129.60" y1="1306.00" x2="136.40" y2="1306.00" stroke="#c98cf3" stroke-width="1.2" />
<line x1="129.60" y1="1314.00" x2="136.40" y2="1314.00" stroke="#c98cf3" stroke-width="1.2" />
<line x1="147.20" y1="1315.00" x2="147.20" y2="1327.70" stroke="#c98cf3" stroke-width="1.2" />
<line x1="143.80" y1="1315.00" x2="150.60" y2="1315.00" stroke="#c98cf3" stroke-width="1.2" />
<line x1="143.80" y1="1327.70" x2="150.60" y2="1327.70" stroke="#c98cf3" stroke-width="1.2" />
<line x1="161.40" y1="1334.30" x2="161.40" y2="1346.30" stroke="#c98cf3" stroke-width="1.2" />
<line x1="158.00" y1="1334.30" x2="164.80" y2="1334.30" stroke="#c98cf3" stroke-width="1.2" />
<line x1="158.00" y1="1346.30" x2="164.80" y2="1346.30" stroke="#c98cf3" stroke-width="1.2" />
<line x1="175.60" y1="1349.00" x2="175.60" y2="1360.00" stroke="#c98cf3" stroke-width="1.2" />
<line x1="172.20" y1="1349.00" x2="179.00" y2="1349.00" stroke="#c98cf3" stroke-width="1.2" />
<line x1="172.20" y1="1360.00" x2="179.00" y2="1360.00" stroke="#c98cf3" stroke-width="1.2" />
<polyline points="104.60,1291.20 118.80,1293.40 133.00,1310.20 147.20,1321.80 161.40,1340.20 175.60,1354.70 189.80,1363.90 204.00,1366.00 218.20,1367.10" fill="none" stroke="#a94cf2" stroke-width="1.2" stroke-linejoin="round" />
<path d="M101.10 1287.77L108.10 1287.77L104.60 1294.63Z" fill="#a94cf2"/>
<path d="M115.30 1289.97L122.30 1289.97L118.80 1296.83Z" fill="#a94cf2"/>
<path d="M129.50 1306.77L136.50 1306.77L133.00 1313.63Z" fill="#a94cf2"/>
<path d="M143.70 1318.37L150.70 1318.37L147.20 1325.23Z" fill="#a94cf2"/>
<path d="M157.90 1336.77L164.90 1336.77L161.40 1343.63Z" fill="#a94cf2"/>
<path d="M172.10 1351.27L179.10 1351.27L175.60 1358.13Z" fill="#a94cf2"/>
<path d="M186.30 1360.47L193.30 1360.47L189.80 1367.33Z" fill="#a94cf2"/>
<path d="M200.50 1362.57L207.50 1362.57L204.00 1369.43Z" fill="#a94cf2"/>
<path d="M214.70 1363.67L221.70 1363.67L218.20 1370.53Z" fill="#a94cf2"/>
<line x1="104.60" y1="1258.30" x2="104.60" y2="1297.00" stroke="#ff7a7a" stroke-width="1.2" />
<line x1="101.20" y1="1258.30" x2="108.00" y2="1258.30" stroke="#ff7a7a" stroke-width="1.2" />
<line x1="101.20" y1="1297.00" x2="108.00" y2="1297.00" stroke="#ff7a7a" stroke-width="1.2" />
<line x1="118.80" y1="1281.10" x2="118.80" y2="1319.60" stroke="#ff7a7a" stroke-width="1.2" />
<line x1="115.40" y1="1281.10" x2="122.20" y2="1281.10" stroke="#ff7a7a" stroke-width="1.2" />
<line x1="115.40" y1="1319.60" x2="122.20" y2="1319.60" stroke="#ff7a7a" stroke-width="1.2" />
<line x1="133.00" y1="1314.60" x2="133.00" y2="1336.50" stroke="#ff7a7a" stroke-width="1.2" />
<line x1="129.60" y1="1314.60" x2="136.40" y2="1314.60" stroke="#ff7a7a" stroke-width="1.2" />
<line x1="129.60" y1="1336.50" x2="136.40" y2="1336.50" stroke="#ff7a7a" stroke-width="1.2" />
<line x1="147.20" y1="1336.50" x2="147.20" y2="1350.70" stroke="#ff7a7a" stroke-width="1.2" />
<line x1="143.80" y1="1336.50" x2="150.60" y2="1336.50" stroke="#ff7a7a" stroke-width="1.2" />
<line x1="143.80" y1="1350.70" x2="150.60" y2="1350.70" stroke="#ff7a7a" stroke-width="1.2" />
<line x1="161.40" y1="1345.20" x2="161.40" y2="1357.30" stroke="#ff7a7a" stroke-width="1.2" />
<line x1="158.00" y1="1345.20" x2="164.80" y2="1345.20" stroke="#ff7a7a" stroke-width="1.2" />
<line x1="158.00" y1="1357.30" x2="164.80" y2="1357.30" stroke="#ff7a7a" stroke-width="1.2" />
<line x1="175.60" y1="1346.30" x2="175.60" y2="1360.60" stroke="#ff7a7a" stroke-width="1.2" />
<line x1="172.20" y1="1346.30" x2="179.00" y2="1346.30" stroke="#ff7a7a" stroke-width="1.2" />
<line x1="172.20" y1="1360.60" x2="179.00" y2="1360.60" stroke="#ff7a7a" stroke-width="1.2" />
<polyline points="104.60,1277.80 118.80,1300.80 133.00,1323.80 147.20,1343.50 161.40,1350.70 175.60,1354.00 189.80,1364.30 204.00,1365.60 218.20,1367.10" fill="none" stroke="#ff4848" stroke-width="1.2" stroke-linejoin="round" />
<rect x="101.10" y="1274.30" width="7.00" height="7.00" fill="#ff4848"/>
<rect x="115.30" y="1297.30" width="7.00" height="7.00" fill="#ff4848"/>
<rect x="129.50" y="1320.30" width="7.00" height="7.00" fill="#ff4848"/>
<rect x="143.70" y="1340.00" width="7.00" height="7.00" fill="#ff4848"/>
<rect x="157.90" y="1347.20" width="7.00" height="7.00" fill="#ff4848"/>
<rect x="172.10" y="1350.50" width="7.00" height="7.00" fill="#ff4848"/>
<rect x="186.30" y="1360.80" width="7.00" height="7.00" fill="#ff4848"/>
<rect x="200.50" y="1362.10" width="7.00" height="7.00" fill="#ff4848"/>
<rect x="214.70" y="1363.60" width="7.00" height="7.00" fill="#ff4848"/>
<polyline points="104.60,1368.90 118.80,1368.30 133.00,1369.00 147.20,1368.90 161.40,1368.90 175.60,1368.90 189.80,1368.90 204.00,1368.90 218.20,1368.90" fill="none" stroke="#000" stroke-width="1.2" stroke-linejoin="round" />
<circle cx="104.60" cy="1368.90" r="3.30" fill="#000"/>
<circle cx="118.80" cy="1368.30" r="3.30" fill="#000"/>
<circle cx="133.00" cy="1369.00" r="3.30" fill="#000"/>
<circle cx="147.20" cy="1368.90" r="3.30" fill="#000"/>
<circle cx="161.40" cy="1368.90" r="3.30" fill="#000"/>
<circle cx="175.60" cy="1368.90" r="3.30" fill="#000"/>
<circle cx="189.80" cy="1368.90" r="3.30" fill="#000"/>
<circle cx="204.00" cy="1368.90" r="3.30" fill="#000"/>
<circle cx="218.20" cy="1368.90" r="3.30" fill="#000"/>
<line x1="160.50" y1="1240.50" x2="175.70" y2="1240.50" stroke="#000" stroke-width="1.4" />
<circle cx="168.10" cy="1240.50" r="3.40" fill="#000"/>
<text x="182.40" y="1245.40" font-size="14.2" textLength="24.60" lengthAdjust="spacingAndGlyphs">PBS</text>
<line x1="160.50" y1="1260.00" x2="175.70" y2="1260.00" stroke="#4b4bff" stroke-width="1.4" />
<path d="M164.60 1263.43L171.60 1263.43L168.10 1256.57Z" fill="#4b4bff"/>
<text x="182.40" y="1263.80" font-size="14.2" textLength="16.50" lengthAdjust="spacingAndGlyphs">aP</text>
<line x1="160.50" y1="1277.10" x2="175.70" y2="1277.10" stroke="#ff4848" stroke-width="1.4" />
<rect x="164.60" y="1273.60" width="7.00" height="7.00" fill="#ff4848"/>
<text x="182.40" y="1281.50" font-size="14.2" textLength="32.50" lengthAdjust="spacingAndGlyphs">AIBP</text>
<line x1="160.50" y1="1293.80" x2="175.70" y2="1293.80" stroke="#a94cf2" stroke-width="1.4" />
<path d="M164.60 1290.37L171.60 1290.37L168.10 1297.23Z" fill="#a94cf2"/>
<text x="182.40" y="1298.90" font-size="14.2" textLength="58.80" lengthAdjust="spacingAndGlyphs">aP + AIBP</text>
<line x1="299.50" y1="1228.28" x2="305.50" y2="1228.28" stroke="#555" stroke-width="1.3" />
<text x="292.70" y="1233.38" font-size="14.4" text-anchor="end">0.8</text>
<line x1="299.50" y1="1263.46" x2="305.50" y2="1263.46" stroke="#555" stroke-width="1.3" />
<text x="292.70" y="1268.56" font-size="14.4" text-anchor="end">0.6</text>
<line x1="299.50" y1="1298.64" x2="305.50" y2="1298.64" stroke="#555" stroke-width="1.3" />
<text x="292.70" y="1303.74" font-size="14.4" text-anchor="end">0.4</text>
<line x1="299.50" y1="1333.82" x2="305.50" y2="1333.82" stroke="#555" stroke-width="1.3" />
<text x="292.70" y="1338.92" font-size="14.4" text-anchor="end">0.2</text>
<text x="292.20" y="1374.10" font-size="14.4" text-anchor="end">0</text>
<line x1="305.50" y1="1228.28" x2="305.50" y2="1374.80" stroke="#555" stroke-width="1.3" />
<line x1="305.50" y1="1369.00" x2="442.90" y2="1369.00" stroke="#2a2a2a" stroke-width="1.3" />
<line x1="351.10" y1="1369.00" x2="351.10" y2="1374.80" stroke="#2a2a2a" stroke-width="1.3" />
<line x1="396.70" y1="1369.00" x2="396.70" y2="1374.80" stroke="#2a2a2a" stroke-width="1.3" />
<line x1="442.30" y1="1369.00" x2="442.30" y2="1374.80" stroke="#2a2a2a" stroke-width="1.3" />
<text transform="translate(313.70,1387.40) rotate(-45)" x="0.00" y="0.00" font-size="16.0" text-anchor="end">50</text>
<text transform="translate(359.30,1387.40) rotate(-45)" x="0.00" y="0.00" font-size="16.0" text-anchor="end">500</text>
<text transform="translate(404.90,1387.40) rotate(-45)" x="0.00" y="0.00" font-size="16.0" text-anchor="end">5,000</text>
<text transform="translate(450.50,1387.40) rotate(-45)" x="0.00" y="0.00" font-size="16.0" text-anchor="end">50,000</text>
<text x="345.70" y="1440.90" font-size="15.8" textLength="59.80" lengthAdjust="spacingAndGlyphs">Dilution</text>
<text x="331.60" y="1226.50" font-size="14.6" textLength="88.70" lengthAdjust="spacingAndGlyphs">Serum IgG1</text>
<polyline points="305.50,1366.90 319.22,1366.90 332.94,1366.90 346.66,1366.90 360.38,1366.90 374.10,1366.90 387.82,1366.90 401.54,1366.90 415.26,1366.90 428.98,1366.90 442.70,1366.90" fill="none" stroke="#000" stroke-width="1.9" stroke-linejoin="round" />
<circle cx="305.50" cy="1366.90" r="3.30" fill="#000"/>
<circle cx="319.22" cy="1366.90" r="3.30" fill="#000"/>
<circle cx="332.94" cy="1366.90" r="3.30" fill="#000"/>
<circle cx="346.66" cy="1366.90" r="3.30" fill="#000"/>
<circle cx="360.38" cy="1366.90" r="3.30" fill="#000"/>
<circle cx="374.10" cy="1366.90" r="3.30" fill="#000"/>
<circle cx="387.82" cy="1366.90" r="3.30" fill="#000"/>
<circle cx="401.54" cy="1366.90" r="3.30" fill="#000"/>
<circle cx="415.26" cy="1366.90" r="3.30" fill="#000"/>
<circle cx="428.98" cy="1366.90" r="3.30" fill="#000"/>
<circle cx="442.70" cy="1366.90" r="3.30" fill="#000"/>
<line x1="305.50" y1="1303.40" x2="305.50" y2="1334.20" stroke="#ff0000" stroke-width="1.5" />
<line x1="302.50" y1="1303.40" x2="308.50" y2="1303.40" stroke="#ff0000" stroke-width="1.5" />
<line x1="302.50" y1="1334.20" x2="308.50" y2="1334.20" stroke="#ff0000" stroke-width="1.5" />
<line x1="319.22" y1="1311.00" x2="319.22" y2="1339.60" stroke="#ff0000" stroke-width="1.5" />
<line x1="316.22" y1="1311.00" x2="322.22" y2="1311.00" stroke="#ff0000" stroke-width="1.5" />
<line x1="316.22" y1="1339.60" x2="322.22" y2="1339.60" stroke="#ff0000" stroke-width="1.5" />
<line x1="332.94" y1="1327.40" x2="332.94" y2="1348.40" stroke="#ff0000" stroke-width="1.5" />
<line x1="329.94" y1="1327.40" x2="335.94" y2="1327.40" stroke="#ff0000" stroke-width="1.5" />
<line x1="329.94" y1="1348.40" x2="335.94" y2="1348.40" stroke="#ff0000" stroke-width="1.5" />
<line x1="346.66" y1="1335.60" x2="346.66" y2="1354.30" stroke="#ff0000" stroke-width="1.5" />
<line x1="343.66" y1="1335.60" x2="349.66" y2="1335.60" stroke="#ff0000" stroke-width="1.5" />
<line x1="343.66" y1="1354.30" x2="349.66" y2="1354.30" stroke="#ff0000" stroke-width="1.5" />
<line x1="360.38" y1="1343.10" x2="360.38" y2="1357.80" stroke="#ff0000" stroke-width="1.5" />
<line x1="357.38" y1="1343.10" x2="363.38" y2="1343.10" stroke="#ff0000" stroke-width="1.5" />
<line x1="357.38" y1="1357.80" x2="363.38" y2="1357.80" stroke="#ff0000" stroke-width="1.5" />
<line x1="374.10" y1="1343.50" x2="374.10" y2="1361.30" stroke="#ff0000" stroke-width="1.5" />
<line x1="371.10" y1="1343.50" x2="377.10" y2="1343.50" stroke="#ff0000" stroke-width="1.5" />
<line x1="371.10" y1="1361.30" x2="377.10" y2="1361.30" stroke="#ff0000" stroke-width="1.5" />
<line x1="387.82" y1="1346.10" x2="387.82" y2="1361.80" stroke="#ff0000" stroke-width="1.5" />
<line x1="384.82" y1="1346.10" x2="390.82" y2="1346.10" stroke="#ff0000" stroke-width="1.5" />
<line x1="384.82" y1="1361.80" x2="390.82" y2="1361.80" stroke="#ff0000" stroke-width="1.5" />
<line x1="401.54" y1="1348.20" x2="401.54" y2="1362.00" stroke="#ff0000" stroke-width="1.5" />
<line x1="398.54" y1="1348.20" x2="404.54" y2="1348.20" stroke="#ff0000" stroke-width="1.5" />
<line x1="398.54" y1="1362.00" x2="404.54" y2="1362.00" stroke="#ff0000" stroke-width="1.5" />
<line x1="415.26" y1="1347.00" x2="415.26" y2="1362.00" stroke="#ff0000" stroke-width="1.5" />
<line x1="412.26" y1="1347.00" x2="418.26" y2="1347.00" stroke="#ff0000" stroke-width="1.5" />
<line x1="412.26" y1="1362.00" x2="418.26" y2="1362.00" stroke="#ff0000" stroke-width="1.5" />
<line x1="428.98" y1="1346.00" x2="428.98" y2="1362.00" stroke="#ff0000" stroke-width="1.5" />
<line x1="425.98" y1="1346.00" x2="431.98" y2="1346.00" stroke="#ff0000" stroke-width="1.5" />
<line x1="425.98" y1="1362.00" x2="431.98" y2="1362.00" stroke="#ff0000" stroke-width="1.5" />
<line x1="442.70" y1="1350.00" x2="442.70" y2="1362.00" stroke="#ff0000" stroke-width="1.5" />
<line x1="439.70" y1="1350.00" x2="445.70" y2="1350.00" stroke="#ff0000" stroke-width="1.5" />
<line x1="439.70" y1="1362.00" x2="445.70" y2="1362.00" stroke="#ff0000" stroke-width="1.5" />
<polyline points="305.50,1318.50 319.22,1324.80 332.94,1337.70 346.66,1344.70 360.38,1350.50 374.10,1352.40 387.82,1353.60 401.54,1355.90 415.26,1355.90 428.98,1355.90 442.70,1357.60" fill="none" stroke="#ff0000" stroke-width="1.9" stroke-linejoin="round" />
<rect x="302.10" y="1315.10" width="6.80" height="6.80" fill="#ff0000"/>
<rect x="315.82" y="1321.40" width="6.80" height="6.80" fill="#ff0000"/>
<rect x="329.54" y="1334.30" width="6.80" height="6.80" fill="#ff0000"/>
<rect x="343.26" y="1341.30" width="6.80" height="6.80" fill="#ff0000"/>
<rect x="356.98" y="1347.10" width="6.80" height="6.80" fill="#ff0000"/>
<rect x="370.70" y="1349.00" width="6.80" height="6.80" fill="#ff0000"/>
<rect x="384.42" y="1350.20" width="6.80" height="6.80" fill="#ff0000"/>
<rect x="398.14" y="1352.50" width="6.80" height="6.80" fill="#ff0000"/>
<rect x="411.86" y="1352.50" width="6.80" height="6.80" fill="#ff0000"/>
<rect x="425.58" y="1352.50" width="6.80" height="6.80" fill="#ff0000"/>
<rect x="439.30" y="1354.20" width="6.80" height="6.80" fill="#ff0000"/>
<line x1="305.50" y1="1230.20" x2="305.50" y2="1247.00" stroke="#a100e6" stroke-width="1.5" />
<line x1="302.50" y1="1230.20" x2="308.50" y2="1230.20" stroke="#a100e6" stroke-width="1.5" />
<line x1="302.50" y1="1247.00" x2="308.50" y2="1247.00" stroke="#a100e6" stroke-width="1.5" />
<line x1="319.22" y1="1235.00" x2="319.22" y2="1254.70" stroke="#a100e6" stroke-width="1.5" />
<line x1="316.22" y1="1235.00" x2="322.22" y2="1235.00" stroke="#a100e6" stroke-width="1.5" />
<line x1="316.22" y1="1254.70" x2="322.22" y2="1254.70" stroke="#a100e6" stroke-width="1.5" />
<line x1="332.94" y1="1254.30" x2="332.94" y2="1275.20" stroke="#a100e6" stroke-width="1.5" />
<line x1="329.94" y1="1254.30" x2="335.94" y2="1254.30" stroke="#a100e6" stroke-width="1.5" />
<line x1="329.94" y1="1275.20" x2="335.94" y2="1275.20" stroke="#a100e6" stroke-width="1.5" />
<line x1="346.66" y1="1271.80" x2="346.66" y2="1291.80" stroke="#a100e6" stroke-width="1.5" />
<line x1="343.66" y1="1271.80" x2="349.66" y2="1271.80" stroke="#a100e6" stroke-width="1.5" />
<line x1="343.66" y1="1291.80" x2="349.66" y2="1291.80" stroke="#a100e6" stroke-width="1.5" />
<line x1="360.38" y1="1292.00" x2="360.38" y2="1305.00" stroke="#a100e6" stroke-width="1.5" />
<line x1="357.38" y1="1292.00" x2="363.38" y2="1292.00" stroke="#a100e6" stroke-width="1.5" />
<line x1="357.38" y1="1305.00" x2="363.38" y2="1305.00" stroke="#a100e6" stroke-width="1.5" />
<line x1="374.10" y1="1303.00" x2="374.10" y2="1322.00" stroke="#a100e6" stroke-width="1.5" />
<line x1="371.10" y1="1303.00" x2="377.10" y2="1303.00" stroke="#a100e6" stroke-width="1.5" />
<line x1="371.10" y1="1322.00" x2="377.10" y2="1322.00" stroke="#a100e6" stroke-width="1.5" />
<line x1="387.82" y1="1321.00" x2="387.82" y2="1337.00" stroke="#a100e6" stroke-width="1.5" />
<line x1="384.82" y1="1321.00" x2="390.82" y2="1321.00" stroke="#a100e6" stroke-width="1.5" />
<line x1="384.82" y1="1337.00" x2="390.82" y2="1337.00" stroke="#a100e6" stroke-width="1.5" />
<line x1="401.54" y1="1336.00" x2="401.54" y2="1348.00" stroke="#a100e6" stroke-width="1.5" />
<line x1="398.54" y1="1336.00" x2="404.54" y2="1336.00" stroke="#a100e6" stroke-width="1.5" />
<line x1="398.54" y1="1348.00" x2="404.54" y2="1348.00" stroke="#a100e6" stroke-width="1.5" />
<line x1="415.26" y1="1347.00" x2="415.26" y2="1356.00" stroke="#a100e6" stroke-width="1.5" />
<line x1="412.26" y1="1347.00" x2="418.26" y2="1347.00" stroke="#a100e6" stroke-width="1.5" />
<line x1="412.26" y1="1356.00" x2="418.26" y2="1356.00" stroke="#a100e6" stroke-width="1.5" />
<line x1="428.98" y1="1354.00" x2="428.98" y2="1360.00" stroke="#a100e6" stroke-width="1.5" />
<line x1="425.98" y1="1354.00" x2="431.98" y2="1354.00" stroke="#a100e6" stroke-width="1.5" />
<line x1="425.98" y1="1360.00" x2="431.98" y2="1360.00" stroke="#a100e6" stroke-width="1.5" />
<line x1="442.70" y1="1361.00" x2="442.70" y2="1366.00" stroke="#a100e6" stroke-width="1.5" />
<line x1="439.70" y1="1361.00" x2="445.70" y2="1361.00" stroke="#a100e6" stroke-width="1.5" />
<line x1="439.70" y1="1366.00" x2="445.70" y2="1366.00" stroke="#a100e6" stroke-width="1.5" />
<polyline points="305.50,1238.20 319.22,1244.10 332.94,1263.10 346.66,1279.90 360.38,1299.60 374.10,1312.70 387.82,1329.00 401.54,1341.90 415.26,1351.20 428.98,1357.10 442.70,1364.10" fill="none" stroke="#a100e6" stroke-width="1.9" stroke-linejoin="round" />
<path d="M302.00 1234.77L309.00 1234.77L305.50 1241.63Z" fill="#a100e6"/>
<path d="M315.72 1240.67L322.72 1240.67L319.22 1247.53Z" fill="#a100e6"/>
<path d="M329.44 1259.67L336.44 1259.67L332.94 1266.53Z" fill="#a100e6"/>
<path d="M343.16 1276.47L350.16 1276.47L346.66 1283.33Z" fill="#a100e6"/>
<path d="M356.88 1296.17L363.88 1296.17L360.38 1303.03Z" fill="#a100e6"/>
<path d="M370.60 1309.27L377.60 1309.27L374.10 1316.13Z" fill="#a100e6"/>
<path d="M384.32 1325.57L391.32 1325.57L387.82 1332.43Z" fill="#a100e6"/>
<path d="M398.04 1338.47L405.04 1338.47L401.54 1345.33Z" fill="#a100e6"/>
<path d="M411.76 1347.77L418.76 1347.77L415.26 1354.63Z" fill="#a100e6"/>
<path d="M425.48 1353.67L432.48 1353.67L428.98 1360.53Z" fill="#a100e6"/>
<path d="M439.20 1360.67L446.20 1360.67L442.70 1367.53Z" fill="#a100e6"/>
<line x1="305.50" y1="1246.00" x2="305.50" y2="1280.10" stroke="#0000ff" stroke-width="1.5" />
<line x1="302.50" y1="1246.00" x2="308.50" y2="1246.00" stroke="#0000ff" stroke-width="1.5" />
<line x1="302.50" y1="1280.10" x2="308.50" y2="1280.10" stroke="#0000ff" stroke-width="1.5" />
<line x1="319.22" y1="1251.40" x2="319.22" y2="1284.20" stroke="#0000ff" stroke-width="1.5" />
<line x1="316.22" y1="1251.40" x2="322.22" y2="1251.40" stroke="#0000ff" stroke-width="1.5" />
<line x1="316.22" y1="1284.20" x2="322.22" y2="1284.20" stroke="#0000ff" stroke-width="1.5" />
<line x1="332.94" y1="1263.50" x2="332.94" y2="1297.40" stroke="#0000ff" stroke-width="1.5" />
<line x1="329.94" y1="1263.50" x2="335.94" y2="1263.50" stroke="#0000ff" stroke-width="1.5" />
<line x1="329.94" y1="1297.40" x2="335.94" y2="1297.40" stroke="#0000ff" stroke-width="1.5" />
<line x1="346.66" y1="1274.70" x2="346.66" y2="1309.00" stroke="#0000ff" stroke-width="1.5" />
<line x1="343.66" y1="1274.70" x2="349.66" y2="1274.70" stroke="#0000ff" stroke-width="1.5" />
<line x1="343.66" y1="1309.00" x2="349.66" y2="1309.00" stroke="#0000ff" stroke-width="1.5" />
<line x1="360.38" y1="1285.70" x2="360.38" y2="1322.50" stroke="#0000ff" stroke-width="1.5" />
<line x1="357.38" y1="1285.70" x2="363.38" y2="1285.70" stroke="#0000ff" stroke-width="1.5" />
<line x1="357.38" y1="1322.50" x2="363.38" y2="1322.50" stroke="#0000ff" stroke-width="1.5" />
<line x1="374.10" y1="1289.80" x2="374.10" y2="1326.70" stroke="#0000ff" stroke-width="1.5" />
<line x1="371.10" y1="1289.80" x2="377.10" y2="1289.80" stroke="#0000ff" stroke-width="1.5" />
<line x1="371.10" y1="1326.70" x2="377.10" y2="1326.70" stroke="#0000ff" stroke-width="1.5" />
<line x1="387.82" y1="1311.50" x2="387.82" y2="1340.30" stroke="#0000ff" stroke-width="1.5" />
<line x1="384.82" y1="1311.50" x2="390.82" y2="1311.50" stroke="#0000ff" stroke-width="1.5" />
<line x1="384.82" y1="1340.30" x2="390.82" y2="1340.30" stroke="#0000ff" stroke-width="1.5" />
<line x1="401.54" y1="1329.50" x2="401.54" y2="1350.10" stroke="#0000ff" stroke-width="1.5" />
<line x1="398.54" y1="1329.50" x2="404.54" y2="1329.50" stroke="#0000ff" stroke-width="1.5" />
<line x1="398.54" y1="1350.10" x2="404.54" y2="1350.10" stroke="#0000ff" stroke-width="1.5" />
<line x1="415.26" y1="1341.90" x2="415.26" y2="1358.30" stroke="#0000ff" stroke-width="1.5" />
<line x1="412.26" y1="1341.90" x2="418.26" y2="1341.90" stroke="#0000ff" stroke-width="1.5" />
<line x1="412.26" y1="1358.30" x2="418.26" y2="1358.30" stroke="#0000ff" stroke-width="1.5" />
<line x1="428.98" y1="1353.60" x2="428.98" y2="1361.00" stroke="#0000ff" stroke-width="1.5" />
<line x1="425.98" y1="1353.60" x2="431.98" y2="1353.60" stroke="#0000ff" stroke-width="1.5" />
<line x1="425.98" y1="1361.00" x2="431.98" y2="1361.00" stroke="#0000ff" stroke-width="1.5" />
<line x1="442.70" y1="1360.00" x2="442.70" y2="1365.00" stroke="#0000ff" stroke-width="1.5" />
<line x1="439.70" y1="1360.00" x2="445.70" y2="1360.00" stroke="#0000ff" stroke-width="1.5" />
<line x1="439.70" y1="1365.00" x2="445.70" y2="1365.00" stroke="#0000ff" stroke-width="1.5" />
<polyline points="305.50,1263.80 319.22,1268.90 332.94,1281.30 346.66,1292.30 360.38,1303.90 374.10,1309.20 387.82,1326.70 401.54,1340.30 415.26,1350.10 428.98,1357.10 442.70,1362.90" fill="none" stroke="#0000ff" stroke-width="1.9" stroke-linejoin="round" />
<path d="M302.00 1267.23L309.00 1267.23L305.50 1260.37Z" fill="#0000ff"/>
<path d="M315.72 1272.33L322.72 1272.33L319.22 1265.47Z" fill="#0000ff"/>
<path d="M329.44 1284.73L336.44 1284.73L332.94 1277.87Z" fill="#0000ff"/>
<path d="M343.16 1295.73L350.16 1295.73L346.66 1288.87Z" fill="#0000ff"/>
<path d="M356.88 1307.33L363.88 1307.33L360.38 1300.47Z" fill="#0000ff"/>
<path d="M370.60 1312.63L377.60 1312.63L374.10 1305.77Z" fill="#0000ff"/>
<path d="M384.32 1330.13L391.32 1330.13L387.82 1323.27Z" fill="#0000ff"/>
<path d="M398.04 1343.73L405.04 1343.73L401.54 1336.87Z" fill="#0000ff"/>
<path d="M411.76 1353.53L418.76 1353.53L415.26 1346.67Z" fill="#0000ff"/>
<path d="M425.48 1360.53L432.48 1360.53L428.98 1353.67Z" fill="#0000ff"/>
<path d="M439.20 1366.33L446.20 1366.33L442.70 1359.47Z" fill="#0000ff"/>
<line x1="511.70" y1="1228.28" x2="517.70" y2="1228.28" stroke="#555" stroke-width="1.3" />
<text x="505.70" y="1233.38" font-size="14.4" text-anchor="end">0.8</text>
<line x1="511.70" y1="1263.46" x2="517.70" y2="1263.46" stroke="#555" stroke-width="1.3" />
<text x="505.70" y="1268.56" font-size="14.4" text-anchor="end">0.6</text>
<line x1="511.70" y1="1298.64" x2="517.70" y2="1298.64" stroke="#555" stroke-width="1.3" />
<text x="505.70" y="1303.74" font-size="14.4" text-anchor="end">0.4</text>
<line x1="511.70" y1="1333.82" x2="517.70" y2="1333.82" stroke="#555" stroke-width="1.3" />
<text x="505.70" y="1338.92" font-size="14.4" text-anchor="end">0.2</text>
<text x="505.20" y="1374.10" font-size="14.4" text-anchor="end">0</text>
<line x1="517.70" y1="1228.28" x2="517.70" y2="1374.80" stroke="#555" stroke-width="1.3" />
<line x1="517.70" y1="1369.00" x2="655.10" y2="1369.00" stroke="#2a2a2a" stroke-width="1.3" />
<line x1="563.30" y1="1369.00" x2="563.30" y2="1374.80" stroke="#2a2a2a" stroke-width="1.3" />
<line x1="608.90" y1="1369.00" x2="608.90" y2="1374.80" stroke="#2a2a2a" stroke-width="1.3" />
<line x1="654.50" y1="1369.00" x2="654.50" y2="1374.80" stroke="#2a2a2a" stroke-width="1.3" />
<text transform="translate(525.90,1387.40) rotate(-45)" x="0.00" y="0.00" font-size="16.0" text-anchor="end">50</text>
<text transform="translate(571.50,1387.40) rotate(-45)" x="0.00" y="0.00" font-size="16.0" text-anchor="end">500</text>
<text transform="translate(617.10,1387.40) rotate(-45)" x="0.00" y="0.00" font-size="16.0" text-anchor="end">5,000</text>
<text transform="translate(662.70,1387.40) rotate(-45)" x="0.00" y="0.00" font-size="16.0" text-anchor="end">50,000</text>
<text x="557.40" y="1441.60" font-size="15.8" textLength="59.80" lengthAdjust="spacingAndGlyphs">Dilution</text>
<text x="537.30" y="1226.50" font-size="14.6" textLength="102.40" lengthAdjust="spacingAndGlyphs">Serum IgG2c</text>
<line x1="517.70" y1="1347.30" x2="517.70" y2="1358.30" stroke="#000" stroke-width="1.5" />
<line x1="514.70" y1="1347.30" x2="520.70" y2="1347.30" stroke="#000" stroke-width="1.5" />
<line x1="514.70" y1="1358.30" x2="520.70" y2="1358.30" stroke="#000" stroke-width="1.5" />
<line x1="531.42" y1="1349.60" x2="531.42" y2="1363.00" stroke="#000" stroke-width="1.5" />
<line x1="528.42" y1="1349.60" x2="534.42" y2="1349.60" stroke="#000" stroke-width="1.5" />
<line x1="528.42" y1="1363.00" x2="534.42" y2="1363.00" stroke="#000" stroke-width="1.5" />
<line x1="545.14" y1="1352.00" x2="545.14" y2="1365.00" stroke="#000" stroke-width="1.5" />
<line x1="542.14" y1="1352.00" x2="548.14" y2="1352.00" stroke="#000" stroke-width="1.5" />
<line x1="542.14" y1="1365.00" x2="548.14" y2="1365.00" stroke="#000" stroke-width="1.5" />
<line x1="558.86" y1="1356.00" x2="558.86" y2="1366.00" stroke="#000" stroke-width="1.5" />
<line x1="555.86" y1="1356.00" x2="561.86" y2="1356.00" stroke="#000" stroke-width="1.5" />
<line x1="555.86" y1="1366.00" x2="561.86" y2="1366.00" stroke="#000" stroke-width="1.5" />
<line x1="572.58" y1="1359.00" x2="572.58" y2="1366.00" stroke="#000" stroke-width="1.5" />
<line x1="569.58" y1="1359.00" x2="575.58" y2="1359.00" stroke="#000" stroke-width="1.5" />
<line x1="569.58" y1="1366.00" x2="575.58" y2="1366.00" stroke="#000" stroke-width="1.5" />
<polyline points="517.70,1352.90 531.42,1356.60 545.14,1359.40 558.86,1361.30 572.58,1362.90 586.30,1363.40 600.02,1365.30 613.74,1365.30 627.46,1365.30 641.18,1365.30 654.90,1365.30" fill="none" stroke="#000" stroke-width="1.9" stroke-linejoin="round" />
<circle cx="517.70" cy="1352.90" r="3.40" fill="#000"/>
<circle cx="531.42" cy="1356.60" r="3.40" fill="#000"/>
<circle cx="545.14" cy="1359.40" r="3.40" fill="#000"/>
<circle cx="558.86" cy="1361.30" r="3.40" fill="#000"/>
<circle cx="572.58" cy="1362.90" r="3.40" fill="#000"/>
<circle cx="586.30" cy="1363.40" r="3.40" fill="#000"/>
<circle cx="600.02" cy="1365.30" r="3.40" fill="#000"/>
<circle cx="613.74" cy="1365.30" r="3.40" fill="#000"/>
<circle cx="627.46" cy="1365.30" r="3.40" fill="#000"/>
<circle cx="641.18" cy="1365.30" r="3.40" fill="#000"/>
<circle cx="654.90" cy="1365.30" r="3.40" fill="#000"/>
<line x1="517.70" y1="1326.70" x2="517.70" y2="1339.60" stroke="#0000ff" stroke-width="1.5" />
<line x1="514.70" y1="1326.70" x2="520.70" y2="1326.70" stroke="#0000ff" stroke-width="1.5" />
<line x1="514.70" y1="1339.60" x2="520.70" y2="1339.60" stroke="#0000ff" stroke-width="1.5" />
<line x1="531.42" y1="1346.60" x2="531.42" y2="1352.00" stroke="#0000ff" stroke-width="1.5" />
<line x1="528.42" y1="1346.60" x2="534.42" y2="1346.60" stroke="#0000ff" stroke-width="1.5" />
<line x1="528.42" y1="1352.00" x2="534.42" y2="1352.00" stroke="#0000ff" stroke-width="1.5" />
<line x1="545.14" y1="1348.40" x2="545.14" y2="1356.00" stroke="#0000ff" stroke-width="1.5" />
<line x1="542.14" y1="1348.40" x2="548.14" y2="1348.40" stroke="#0000ff" stroke-width="1.5" />
<line x1="542.14" y1="1356.00" x2="548.14" y2="1356.00" stroke="#0000ff" stroke-width="1.5" />
<line x1="558.86" y1="1352.00" x2="558.86" y2="1359.00" stroke="#0000ff" stroke-width="1.5" />
<line x1="555.86" y1="1352.00" x2="561.86" y2="1352.00" stroke="#0000ff" stroke-width="1.5" />
<line x1="555.86" y1="1359.00" x2="561.86" y2="1359.00" stroke="#0000ff" stroke-width="1.5" />
<line x1="572.58" y1="1357.00" x2="572.58" y2="1362.00" stroke="#0000ff" stroke-width="1.5" />
<line x1="569.58" y1="1357.00" x2="575.58" y2="1357.00" stroke="#0000ff" stroke-width="1.5" />
<line x1="569.58" y1="1362.00" x2="575.58" y2="1362.00" stroke="#0000ff" stroke-width="1.5" />
<polyline points="517.70,1334.20 531.42,1349.40 545.14,1352.00 558.86,1355.90 572.58,1359.90 586.30,1361.00 600.02,1362.20 613.74,1363.40 627.46,1363.40 641.18,1363.40 654.90,1363.40" fill="none" stroke="#0000ff" stroke-width="1.9" stroke-linejoin="round" />
<path d="M514.20 1337.63L521.20 1337.63L517.70 1330.77Z" fill="#0000ff"/>
<path d="M527.92 1352.83L534.92 1352.83L531.42 1345.97Z" fill="#0000ff"/>
<path d="M541.64 1355.43L548.64 1355.43L545.14 1348.57Z" fill="#0000ff"/>
<path d="M555.36 1359.33L562.36 1359.33L558.86 1352.47Z" fill="#0000ff"/>
<path d="M569.08 1363.33L576.08 1363.33L572.58 1356.47Z" fill="#0000ff"/>
<path d="M582.80 1364.43L589.80 1364.43L586.30 1357.57Z" fill="#0000ff"/>
<path d="M596.52 1365.63L603.52 1365.63L600.02 1358.77Z" fill="#0000ff"/>
<path d="M610.24 1366.83L617.24 1366.83L613.74 1359.97Z" fill="#0000ff"/>
<path d="M623.96 1366.83L630.96 1366.83L627.46 1359.97Z" fill="#0000ff"/>
<path d="M637.68 1366.83L644.68 1366.83L641.18 1359.97Z" fill="#0000ff"/>
<path d="M651.40 1366.83L658.40 1366.83L654.90 1359.97Z" fill="#0000ff"/>
<line x1="517.70" y1="1228.20" x2="517.70" y2="1258.50" stroke="#a100e6" stroke-width="1.5" />
<line x1="514.70" y1="1228.20" x2="520.70" y2="1228.20" stroke="#a100e6" stroke-width="1.5" />
<line x1="514.70" y1="1258.50" x2="520.70" y2="1258.50" stroke="#a100e6" stroke-width="1.5" />
<line x1="531.42" y1="1249.40" x2="531.42" y2="1274.70" stroke="#a100e6" stroke-width="1.5" />
<line x1="528.42" y1="1249.40" x2="534.42" y2="1249.40" stroke="#a100e6" stroke-width="1.5" />
<line x1="528.42" y1="1274.70" x2="534.42" y2="1274.70" stroke="#a100e6" stroke-width="1.5" />
<line x1="545.14" y1="1259.40" x2="545.14" y2="1288.00" stroke="#a100e6" stroke-width="1.5" />
<line x1="542.14" y1="1259.40" x2="548.14" y2="1259.40" stroke="#a100e6" stroke-width="1.5" />
<line x1="542.14" y1="1288.00" x2="548.14" y2="1288.00" stroke="#a100e6" stroke-width="1.5" />
<line x1="558.86" y1="1280.00" x2="558.86" y2="1305.80" stroke="#a100e6" stroke-width="1.5" />
<line x1="555.86" y1="1280.00" x2="561.86" y2="1280.00" stroke="#a100e6" stroke-width="1.5" />
<line x1="555.86" y1="1305.80" x2="561.86" y2="1305.80" stroke="#a100e6" stroke-width="1.5" />
<line x1="572.58" y1="1287.10" x2="572.58" y2="1312.00" stroke="#a100e6" stroke-width="1.5" />
<line x1="569.58" y1="1287.10" x2="575.58" y2="1287.10" stroke="#a100e6" stroke-width="1.5" />
<line x1="569.58" y1="1312.00" x2="575.58" y2="1312.00" stroke="#a100e6" stroke-width="1.5" />
<line x1="586.30" y1="1305.00" x2="586.30" y2="1328.00" stroke="#a100e6" stroke-width="1.5" />
<line x1="583.30" y1="1305.00" x2="589.30" y2="1305.00" stroke="#a100e6" stroke-width="1.5" />
<line x1="583.30" y1="1328.00" x2="589.30" y2="1328.00" stroke="#a100e6" stroke-width="1.5" />
<line x1="600.02" y1="1318.00" x2="600.02" y2="1336.00" stroke="#a100e6" stroke-width="1.5" />
<line x1="597.02" y1="1318.00" x2="603.02" y2="1318.00" stroke="#a100e6" stroke-width="1.5" />
<line x1="597.02" y1="1336.00" x2="603.02" y2="1336.00" stroke="#a100e6" stroke-width="1.5" />
<line x1="613.74" y1="1333.00" x2="613.74" y2="1349.00" stroke="#a100e6" stroke-width="1.5" />
<line x1="610.74" y1="1333.00" x2="616.74" y2="1333.00" stroke="#a100e6" stroke-width="1.5" />
<line x1="610.74" y1="1349.00" x2="616.74" y2="1349.00" stroke="#a100e6" stroke-width="1.5" />
<line x1="627.46" y1="1350.00" x2="627.46" y2="1358.00" stroke="#a100e6" stroke-width="1.5" />
<line x1="624.46" y1="1350.00" x2="630.46" y2="1350.00" stroke="#a100e6" stroke-width="1.5" />
<line x1="624.46" y1="1358.00" x2="630.46" y2="1358.00" stroke="#a100e6" stroke-width="1.5" />
<line x1="641.18" y1="1355.00" x2="641.18" y2="1361.00" stroke="#a100e6" stroke-width="1.5" />
<line x1="638.18" y1="1355.00" x2="644.18" y2="1355.00" stroke="#a100e6" stroke-width="1.5" />
<line x1="638.18" y1="1361.00" x2="644.18" y2="1361.00" stroke="#a100e6" stroke-width="1.5" />
<line x1="654.90" y1="1360.00" x2="654.90" y2="1364.00" stroke="#a100e6" stroke-width="1.5" />
<line x1="651.90" y1="1360.00" x2="657.90" y2="1360.00" stroke="#a100e6" stroke-width="1.5" />
<line x1="651.90" y1="1364.00" x2="657.90" y2="1364.00" stroke="#a100e6" stroke-width="1.5" />
<polyline points="517.70,1242.40 531.42,1262.00 545.14,1273.10 558.86,1292.70 572.58,1299.70 586.30,1316.90 600.02,1326.70 613.74,1341.20 627.46,1354.30 641.18,1358.30 654.90,1362.20" fill="none" stroke="#a100e6" stroke-width="1.9" stroke-linejoin="round" />
<path d="M514.20 1238.97L521.20 1238.97L517.70 1245.83Z" fill="#a100e6"/>
<path d="M527.92 1258.57L534.92 1258.57L531.42 1265.43Z" fill="#a100e6"/>
<path d="M541.64 1269.67L548.64 1269.67L545.14 1276.53Z" fill="#a100e6"/>
<path d="M555.36 1289.27L562.36 1289.27L558.86 1296.13Z" fill="#a100e6"/>
<path d="M569.08 1296.27L576.08 1296.27L572.58 1303.13Z" fill="#a100e6"/>
<path d="M582.80 1313.47L589.80 1313.47L586.30 1320.33Z" fill="#a100e6"/>
<path d="M596.52 1323.27L603.52 1323.27L600.02 1330.13Z" fill="#a100e6"/>
<path d="M610.24 1337.77L617.24 1337.77L613.74 1344.63Z" fill="#a100e6"/>
<path d="M623.96 1350.87L630.96 1350.87L627.46 1357.73Z" fill="#a100e6"/>
<path d="M637.68 1354.87L644.68 1354.87L641.18 1361.73Z" fill="#a100e6"/>
<path d="M651.40 1358.77L658.40 1358.77L654.90 1365.63Z" fill="#a100e6"/>
<line x1="517.70" y1="1246.30" x2="517.70" y2="1278.20" stroke="#ff0000" stroke-width="1.5" />
<line x1="514.70" y1="1246.30" x2="520.70" y2="1246.30" stroke="#ff0000" stroke-width="1.5" />
<line x1="514.70" y1="1278.20" x2="520.70" y2="1278.20" stroke="#ff0000" stroke-width="1.5" />
<line x1="531.42" y1="1246.30" x2="531.42" y2="1285.70" stroke="#ff0000" stroke-width="1.5" />
<line x1="528.42" y1="1246.30" x2="534.42" y2="1246.30" stroke="#ff0000" stroke-width="1.5" />
<line x1="528.42" y1="1285.70" x2="534.42" y2="1285.70" stroke="#ff0000" stroke-width="1.5" />
<line x1="545.14" y1="1257.70" x2="545.14" y2="1293.20" stroke="#ff0000" stroke-width="1.5" />
<line x1="542.14" y1="1257.70" x2="548.14" y2="1257.70" stroke="#ff0000" stroke-width="1.5" />
<line x1="542.14" y1="1293.20" x2="548.14" y2="1293.20" stroke="#ff0000" stroke-width="1.5" />
<line x1="558.86" y1="1263.80" x2="558.86" y2="1302.30" stroke="#ff0000" stroke-width="1.5" />
<line x1="555.86" y1="1263.80" x2="561.86" y2="1263.80" stroke="#ff0000" stroke-width="1.5" />
<line x1="555.86" y1="1302.30" x2="561.86" y2="1302.30" stroke="#ff0000" stroke-width="1.5" />
<line x1="572.58" y1="1279.60" x2="572.58" y2="1315.00" stroke="#ff0000" stroke-width="1.5" />
<line x1="569.58" y1="1279.60" x2="575.58" y2="1279.60" stroke="#ff0000" stroke-width="1.5" />
<line x1="569.58" y1="1315.00" x2="575.58" y2="1315.00" stroke="#ff0000" stroke-width="1.5" />
<line x1="586.30" y1="1289.30" x2="586.30" y2="1323.90" stroke="#ff0000" stroke-width="1.5" />
<line x1="583.30" y1="1289.30" x2="589.30" y2="1289.30" stroke="#ff0000" stroke-width="1.5" />
<line x1="583.30" y1="1323.90" x2="589.30" y2="1323.90" stroke="#ff0000" stroke-width="1.5" />
<line x1="600.02" y1="1305.70" x2="600.02" y2="1339.60" stroke="#ff0000" stroke-width="1.5" />
<line x1="597.02" y1="1305.70" x2="603.02" y2="1305.70" stroke="#ff0000" stroke-width="1.5" />
<line x1="597.02" y1="1339.60" x2="603.02" y2="1339.60" stroke="#ff0000" stroke-width="1.5" />
<line x1="613.74" y1="1325.50" x2="613.74" y2="1347.70" stroke="#ff0000" stroke-width="1.5" />
<line x1="610.74" y1="1325.50" x2="616.74" y2="1325.50" stroke="#ff0000" stroke-width="1.5" />
<line x1="610.74" y1="1347.70" x2="616.74" y2="1347.70" stroke="#ff0000" stroke-width="1.5" />
<line x1="627.46" y1="1343.10" x2="627.46" y2="1357.10" stroke="#ff0000" stroke-width="1.5" />
<line x1="624.46" y1="1343.10" x2="630.46" y2="1343.10" stroke="#ff0000" stroke-width="1.5" />
<line x1="624.46" y1="1357.10" x2="630.46" y2="1357.10" stroke="#ff0000" stroke-width="1.5" />
<line x1="641.18" y1="1349.60" x2="641.18" y2="1359.40" stroke="#ff0000" stroke-width="1.5" />
<line x1="638.18" y1="1349.60" x2="644.18" y2="1349.60" stroke="#ff0000" stroke-width="1.5" />
<line x1="638.18" y1="1359.40" x2="644.18" y2="1359.40" stroke="#ff0000" stroke-width="1.5" />
<line x1="654.90" y1="1357.00" x2="654.90" y2="1362.00" stroke="#ff0000" stroke-width="1.5" />
<line x1="651.90" y1="1357.00" x2="657.90" y2="1357.00" stroke="#ff0000" stroke-width="1.5" />
<line x1="651.90" y1="1362.00" x2="657.90" y2="1362.00" stroke="#ff0000" stroke-width="1.5" />
<polyline points="517.70,1262.60 531.42,1265.50 545.14,1275.20 558.86,1283.10 572.58,1297.30 586.30,1307.00 600.02,1322.00 613.74,1336.80 627.46,1350.10 641.18,1355.20 654.90,1360.60" fill="none" stroke="#ff0000" stroke-width="1.9" stroke-linejoin="round" />
<rect x="514.20" y="1259.10" width="7.00" height="7.00" fill="#ff0000"/>
<rect x="527.92" y="1262.00" width="7.00" height="7.00" fill="#ff0000"/>
<rect x="541.64" y="1271.70" width="7.00" height="7.00" fill="#ff0000"/>
<rect x="555.36" y="1279.60" width="7.00" height="7.00" fill="#ff0000"/>
<rect x="569.08" y="1293.80" width="7.00" height="7.00" fill="#ff0000"/>
<rect x="582.80" y="1303.50" width="7.00" height="7.00" fill="#ff0000"/>
<rect x="596.52" y="1318.50" width="7.00" height="7.00" fill="#ff0000"/>
<rect x="610.24" y="1333.30" width="7.00" height="7.00" fill="#ff0000"/>
<rect x="623.96" y="1346.60" width="7.00" height="7.00" fill="#ff0000"/>
<rect x="637.68" y="1351.70" width="7.00" height="7.00" fill="#ff0000"/>
<rect x="651.40" y="1357.10" width="7.00" height="7.00" fill="#ff0000"/>
<line x1="88.30" y1="1618.20" x2="94.30" y2="1618.20" stroke="#555" stroke-width="1.3" />
<text x="75.80" y="1622.90" font-size="14.0" text-anchor="end">10</text>
<text x="76.20" y="1617.00" font-size="9.6">0</text>
<line x1="88.30" y1="1594.70" x2="94.30" y2="1594.70" stroke="#555" stroke-width="1.3" />
<text x="75.80" y="1599.40" font-size="14.0" text-anchor="end">10</text>
<text x="76.20" y="1593.50" font-size="9.6">1</text>
<line x1="88.30" y1="1571.20" x2="94.30" y2="1571.20" stroke="#555" stroke-width="1.3" />
<text x="75.80" y="1575.90" font-size="14.0" text-anchor="end">10</text>
<text x="76.20" y="1570.00" font-size="9.6">2</text>
<line x1="88.30" y1="1547.70" x2="94.30" y2="1547.70" stroke="#555" stroke-width="1.3" />
<text x="75.80" y="1552.40" font-size="14.0" text-anchor="end">10</text>
<text x="76.20" y="1546.50" font-size="9.6">3</text>
<line x1="88.30" y1="1524.20" x2="94.30" y2="1524.20" stroke="#555" stroke-width="1.3" />
<text x="75.80" y="1528.90" font-size="14.0" text-anchor="end">10</text>
<text x="76.20" y="1523.00" font-size="9.6">4</text>
<line x1="88.30" y1="1500.70" x2="94.30" y2="1500.70" stroke="#555" stroke-width="1.3" />
<text x="75.80" y="1505.40" font-size="14.0" text-anchor="end">10</text>
<text x="76.20" y="1499.50" font-size="9.6">5</text>
<line x1="88.30" y1="1477.20" x2="94.30" y2="1477.20" stroke="#555" stroke-width="1.3" />
<text x="75.80" y="1481.90" font-size="14.0" text-anchor="end">10</text>
<text x="76.20" y="1476.00" font-size="9.6">6</text>
<line x1="94.30" y1="1477.20" x2="94.30" y2="1624.60" stroke="#555" stroke-width="1.3" />
<line x1="88.30" y1="1618.20" x2="309.50" y2="1618.20" stroke="#2a2a2a" stroke-width="1.3" />
<line x1="164.86" y1="1618.20" x2="164.86" y2="1624.60" stroke="#2a2a2a" stroke-width="1.3" />
<line x1="235.42" y1="1618.20" x2="235.42" y2="1624.60" stroke="#2a2a2a" stroke-width="1.3" />
<line x1="305.98" y1="1618.20" x2="305.98" y2="1624.60" stroke="#2a2a2a" stroke-width="1.3" />
<text x="94.30" y="1641.30" font-size="14.2" text-anchor="middle">0</text>
<text x="164.86" y="1641.30" font-size="14.2" text-anchor="middle">7</text>
<text x="235.42" y="1641.30" font-size="14.2" text-anchor="middle">14</text>
<text x="305.98" y="1641.30" font-size="14.2" text-anchor="middle">21</text>
<text transform="translate(48.90,1588.90) rotate(-90)" font-size="16" fill="#1a1a1a" textLength="82.30" lengthAdjust="spacingAndGlyphs">CFU (lung)</text>
<text x="94.00" y="1666.60" font-size="16.4" textLength="212.00" lengthAdjust="spacingAndGlyphs">Time post-challenge (days)</text>
<polyline points="94.30,1513.60 164.86,1616.00 235.42,1616.00 305.98,1616.00" fill="none" stroke="#a020f0" stroke-width="1.9" stroke-linejoin="round" />
<path d="M91.30 1510.66L97.30 1510.66L94.30 1516.54Z" fill="#a020f0"/>
<path d="M161.86 1613.06L167.86 1613.06L164.86 1618.94Z" fill="#a020f0"/>
<path d="M232.42 1613.06L238.42 1613.06L235.42 1618.94Z" fill="#a020f0"/>
<path d="M302.98 1613.06L308.98 1613.06L305.98 1618.94Z" fill="#a020f0"/>
<line x1="94.30" y1="1508.00" x2="94.30" y2="1522.00" stroke="#f5475a" stroke-width="1.6" />
<line x1="91.10" y1="1508.00" x2="97.50" y2="1508.00" stroke="#f5475a" stroke-width="1.6" />
<line x1="91.10" y1="1522.00" x2="97.50" y2="1522.00" stroke="#f5475a" stroke-width="1.6" />
<polyline points="94.30,1513.60 164.86,1613.00 235.42,1613.00 305.98,1613.00" fill="none" stroke="#f5475a" stroke-width="1.9" stroke-linejoin="round" />
<rect x="90.90" y="1510.20" width="6.80" height="6.80" fill="#f5475a"/>
<rect x="161.46" y="1609.60" width="6.80" height="6.80" fill="#f5475a"/>
<rect x="232.02" y="1609.60" width="6.80" height="6.80" fill="#f5475a"/>
<rect x="302.58" y="1609.60" width="6.80" height="6.80" fill="#f5475a"/>
<line x1="164.86" y1="1530.30" x2="164.86" y2="1548.80" stroke="#1a1aff" stroke-width="1.6" />
<line x1="161.66" y1="1530.30" x2="168.06" y2="1530.30" stroke="#1a1aff" stroke-width="1.6" />
<line x1="161.66" y1="1548.80" x2="168.06" y2="1548.80" stroke="#1a1aff" stroke-width="1.6" />
<line x1="235.42" y1="1559.50" x2="235.42" y2="1566.50" stroke="#1a1aff" stroke-width="1.6" />
<line x1="232.22" y1="1559.50" x2="238.62" y2="1559.50" stroke="#1a1aff" stroke-width="1.6" />
<line x1="232.22" y1="1566.50" x2="238.62" y2="1566.50" stroke="#1a1aff" stroke-width="1.6" />
<line x1="305.98" y1="1573.40" x2="305.98" y2="1618.00" stroke="#1a1aff" stroke-width="1.6" />
<line x1="302.78" y1="1573.40" x2="309.18" y2="1573.40" stroke="#1a1aff" stroke-width="1.6" />
<line x1="302.78" y1="1618.00" x2="309.18" y2="1618.00" stroke="#1a1aff" stroke-width="1.6" />
<polyline points="94.30,1513.60 164.86,1536.60 235.42,1562.90 305.98,1581.40" fill="none" stroke="#1a1aff" stroke-width="1.9" stroke-linejoin="round" />
<path d="M90.80 1517.03L97.80 1517.03L94.30 1510.17Z" fill="#1a1aff"/>
<path d="M161.36 1540.03L168.36 1540.03L164.86 1533.17Z" fill="#1a1aff"/>
<path d="M231.92 1566.33L238.92 1566.33L235.42 1559.47Z" fill="#1a1aff"/>
<path d="M302.48 1584.83L309.48 1584.83L305.98 1577.97Z" fill="#1a1aff"/>
<line x1="94.30" y1="1509.00" x2="94.30" y2="1522.30" stroke="#000" stroke-width="1.6" />
<line x1="91.10" y1="1509.00" x2="97.50" y2="1509.00" stroke="#000" stroke-width="1.6" />
<line x1="91.10" y1="1522.30" x2="97.50" y2="1522.30" stroke="#000" stroke-width="1.6" />
<line x1="164.86" y1="1475.50" x2="164.86" y2="1480.00" stroke="#000" stroke-width="1.6" />
<line x1="161.66" y1="1475.50" x2="168.06" y2="1475.50" stroke="#000" stroke-width="1.6" />
<line x1="161.66" y1="1480.00" x2="168.06" y2="1480.00" stroke="#000" stroke-width="1.6" />
<line x1="235.42" y1="1483.00" x2="235.42" y2="1488.50" stroke="#000" stroke-width="1.6" />
<line x1="232.22" y1="1483.00" x2="238.62" y2="1483.00" stroke="#000" stroke-width="1.6" />
<line x1="232.22" y1="1488.50" x2="238.62" y2="1488.50" stroke="#000" stroke-width="1.6" />
<line x1="305.98" y1="1495.20" x2="305.98" y2="1503.30" stroke="#000" stroke-width="1.6" />
<line x1="302.78" y1="1495.20" x2="309.18" y2="1495.20" stroke="#000" stroke-width="1.6" />
<line x1="302.78" y1="1503.30" x2="309.18" y2="1503.30" stroke="#000" stroke-width="1.6" />
<polyline points="94.30,1513.60 164.86,1477.70 235.42,1485.80 305.98,1498.70" fill="none" stroke="#000" stroke-width="1.9" stroke-linejoin="round" />
<circle cx="94.30" cy="1513.60" r="3.50" fill="#000"/>
<circle cx="164.86" cy="1477.70" r="3.50" fill="#000"/>
<circle cx="235.42" cy="1485.80" r="3.50" fill="#000"/>
<circle cx="305.98" cy="1498.70" r="3.50" fill="#000"/>
<line x1="453.50" y1="1620.20" x2="459.50" y2="1620.20" stroke="#555" stroke-width="1.3" />
<text x="442.30" y="1624.90" font-size="14.0" text-anchor="end">10</text>
<text x="442.70" y="1619.00" font-size="9.6">0</text>
<line x1="453.50" y1="1596.70" x2="459.50" y2="1596.70" stroke="#555" stroke-width="1.3" />
<text x="442.30" y="1601.40" font-size="14.0" text-anchor="end">10</text>
<text x="442.70" y="1595.50" font-size="9.6">1</text>
<line x1="453.50" y1="1573.20" x2="459.50" y2="1573.20" stroke="#555" stroke-width="1.3" />
<text x="442.30" y="1577.90" font-size="14.0" text-anchor="end">10</text>
<text x="442.70" y="1572.00" font-size="9.6">2</text>
<line x1="453.50" y1="1549.70" x2="459.50" y2="1549.70" stroke="#555" stroke-width="1.3" />
<text x="442.30" y="1554.40" font-size="14.0" text-anchor="end">10</text>
<text x="442.70" y="1548.50" font-size="9.6">3</text>
<line x1="453.50" y1="1526.20" x2="459.50" y2="1526.20" stroke="#555" stroke-width="1.3" />
<text x="442.30" y="1530.90" font-size="14.0" text-anchor="end">10</text>
<text x="442.70" y="1525.00" font-size="9.6">4</text>
<line x1="453.50" y1="1502.70" x2="459.50" y2="1502.70" stroke="#555" stroke-width="1.3" />
<text x="442.30" y="1507.40" font-size="14.0" text-anchor="end">10</text>
<text x="442.70" y="1501.50" font-size="9.6">5</text>
<line x1="453.50" y1="1479.20" x2="459.50" y2="1479.20" stroke="#555" stroke-width="1.3" />
<text x="442.30" y="1483.90" font-size="14.0" text-anchor="end">10</text>
<text x="442.70" y="1478.00" font-size="9.6">6</text>
<line x1="459.50" y1="1479.20" x2="459.50" y2="1626.60" stroke="#555" stroke-width="1.3" />
<line x1="453.50" y1="1620.20" x2="673.50" y2="1620.20" stroke="#2a2a2a" stroke-width="1.3" />
<line x1="529.85" y1="1620.20" x2="529.85" y2="1626.60" stroke="#2a2a2a" stroke-width="1.3" />
<line x1="600.20" y1="1620.20" x2="600.20" y2="1626.60" stroke="#2a2a2a" stroke-width="1.3" />
<line x1="670.55" y1="1620.20" x2="670.55" y2="1626.60" stroke="#2a2a2a" stroke-width="1.3" />
<text x="459.50" y="1643.80" font-size="14.2" text-anchor="middle">0</text>
<text x="529.85" y="1643.80" font-size="14.2" text-anchor="middle">7</text>
<text x="600.20" y="1643.80" font-size="14.2" text-anchor="middle">14</text>
<text x="670.55" y="1643.80" font-size="14.2" text-anchor="middle">21</text>
<text transform="translate(414.50,1592.50) rotate(-90)" font-size="16" fill="#1a1a1a" textLength="84.30" lengthAdjust="spacingAndGlyphs">CFU (nose)</text>
<text x="459.00" y="1668.30" font-size="16.4" textLength="212.00" lengthAdjust="spacingAndGlyphs">Time post-challenge (days)</text>
<line x1="529.85" y1="1556.50" x2="529.85" y2="1562.00" stroke="#a020f0" stroke-width="1.6" />
<line x1="526.65" y1="1556.50" x2="533.05" y2="1556.50" stroke="#a020f0" stroke-width="1.6" />
<line x1="526.65" y1="1562.00" x2="533.05" y2="1562.00" stroke="#a020f0" stroke-width="1.6" />
<polyline points="459.50,1510.30 529.85,1559.30 600.20,1619.30 670.55,1619.30" fill="none" stroke="#a020f0" stroke-width="1.9" stroke-linejoin="round" />
<path d="M456.20 1507.07L462.80 1507.07L459.50 1513.53Z" fill="#a020f0"/>
<path d="M526.55 1556.07L533.15 1556.07L529.85 1562.53Z" fill="#a020f0"/>
<path d="M596.90 1616.07L603.50 1616.07L600.20 1622.53Z" fill="#a020f0"/>
<path d="M667.25 1616.07L673.85 1616.07L670.55 1622.53Z" fill="#a020f0"/>
<line x1="459.50" y1="1505.00" x2="459.50" y2="1520.10" stroke="#ff1010" stroke-width="1.6" />
<line x1="456.30" y1="1505.00" x2="462.70" y2="1505.00" stroke="#ff1010" stroke-width="1.6" />
<line x1="456.30" y1="1520.10" x2="462.70" y2="1520.10" stroke="#ff1010" stroke-width="1.6" />
<line x1="529.85" y1="1545.00" x2="529.85" y2="1550.50" stroke="#ff1010" stroke-width="1.6" />
<line x1="526.65" y1="1545.00" x2="533.05" y2="1545.00" stroke="#ff1010" stroke-width="1.6" />
<line x1="526.65" y1="1550.50" x2="533.05" y2="1550.50" stroke="#ff1010" stroke-width="1.6" />
<polyline points="459.50,1510.30 529.85,1547.80 600.20,1615.40 670.55,1615.40" fill="none" stroke="#ff1010" stroke-width="1.9" stroke-linejoin="round" />
<rect x="456.00" y="1506.80" width="7.00" height="7.00" fill="#ff1010"/>
<rect x="526.35" y="1544.30" width="7.00" height="7.00" fill="#ff1010"/>
<rect x="596.70" y="1611.90" width="7.00" height="7.00" fill="#ff1010"/>
<rect x="667.05" y="1611.90" width="7.00" height="7.00" fill="#ff1010"/>
<line x1="529.85" y1="1494.00" x2="529.85" y2="1500.00" stroke="#1a1aff" stroke-width="1.6" />
<line x1="526.65" y1="1494.00" x2="533.05" y2="1494.00" stroke="#1a1aff" stroke-width="1.6" />
<line x1="526.65" y1="1500.00" x2="533.05" y2="1500.00" stroke="#1a1aff" stroke-width="1.6" />
<line x1="600.20" y1="1490.00" x2="600.20" y2="1495.50" stroke="#1a1aff" stroke-width="1.6" />
<line x1="597.00" y1="1490.00" x2="603.40" y2="1490.00" stroke="#1a1aff" stroke-width="1.6" />
<line x1="597.00" y1="1495.50" x2="603.40" y2="1495.50" stroke="#1a1aff" stroke-width="1.6" />
<line x1="670.55" y1="1508.50" x2="670.55" y2="1514.00" stroke="#1a1aff" stroke-width="1.6" />
<line x1="667.35" y1="1508.50" x2="673.75" y2="1508.50" stroke="#1a1aff" stroke-width="1.6" />
<line x1="667.35" y1="1514.00" x2="673.75" y2="1514.00" stroke="#1a1aff" stroke-width="1.6" />
<polyline points="459.50,1510.30 529.85,1497.00 600.20,1492.80 670.55,1511.30" fill="none" stroke="#1a1aff" stroke-width="1.9" stroke-linejoin="round" />
<path d="M456.00 1513.73L463.00 1513.73L459.50 1506.87Z" fill="#1a1aff"/>
<path d="M526.35 1500.43L533.35 1500.43L529.85 1493.57Z" fill="#1a1aff"/>
<path d="M596.70 1496.23L603.70 1496.23L600.20 1489.37Z" fill="#1a1aff"/>
<path d="M667.05 1514.73L674.05 1514.73L670.55 1507.87Z" fill="#1a1aff"/>
<line x1="459.50" y1="1505.00" x2="459.50" y2="1520.10" stroke="#000" stroke-width="1.6" />
<line x1="456.30" y1="1505.00" x2="462.70" y2="1505.00" stroke="#000" stroke-width="1.6" />
<line x1="456.30" y1="1520.10" x2="462.70" y2="1520.10" stroke="#000" stroke-width="1.6" />
<line x1="529.85" y1="1480.00" x2="529.85" y2="1487.80" stroke="#000" stroke-width="1.6" />
<line x1="526.65" y1="1480.00" x2="533.05" y2="1480.00" stroke="#000" stroke-width="1.6" />
<line x1="526.65" y1="1487.80" x2="533.05" y2="1487.80" stroke="#000" stroke-width="1.6" />
<polyline points="459.50,1510.30 529.85,1482.30 600.20,1483.00 670.55,1508.50" fill="none" stroke="#000" stroke-width="1.9" stroke-linejoin="round" />
<circle cx="459.50" cy="1510.30" r="3.50" fill="#000"/>
<circle cx="529.85" cy="1482.30" r="3.50" fill="#000"/>
<circle cx="600.20" cy="1483.00" r="3.50" fill="#000"/>
<circle cx="670.55" cy="1508.50" r="3.50" fill="#000"/>
<line x1="576.70" y1="1526.40" x2="591.90" y2="1526.40" stroke="#000" stroke-width="1.4" />
<circle cx="584.30" cy="1526.40" r="3.40" fill="#000"/>
<text x="599.20" y="1531.20" font-size="14.2" textLength="24.80" lengthAdjust="spacingAndGlyphs">PBS</text>
<line x1="576.70" y1="1545.00" x2="591.90" y2="1545.00" stroke="#1a1aff" stroke-width="1.4" />
<path d="M580.80 1548.43L587.80 1548.43L584.30 1541.57Z" fill="#1a1aff"/>
<text x="599.20" y="1550.10" font-size="14.2" textLength="16.60" lengthAdjust="spacingAndGlyphs">aP</text>
<line x1="576.70" y1="1563.30" x2="591.90" y2="1563.30" stroke="#ff1010" stroke-width="1.4" />
<rect x="580.80" y="1559.80" width="7.00" height="7.00" fill="#ff1010"/>
<text x="599.20" y="1568.10" font-size="14.2" textLength="32.80" lengthAdjust="spacingAndGlyphs">AIBP</text>
<line x1="576.70" y1="1581.50" x2="591.90" y2="1581.50" stroke="#a020f0" stroke-width="1.4" />
<path d="M580.80 1578.07L587.80 1578.07L584.30 1584.93Z" fill="#a020f0"/>
<text x="599.20" y="1585.90" font-size="14.2" textLength="59.10" lengthAdjust="spacingAndGlyphs">aP + AIBP</text>
</svg>
</body></html>
